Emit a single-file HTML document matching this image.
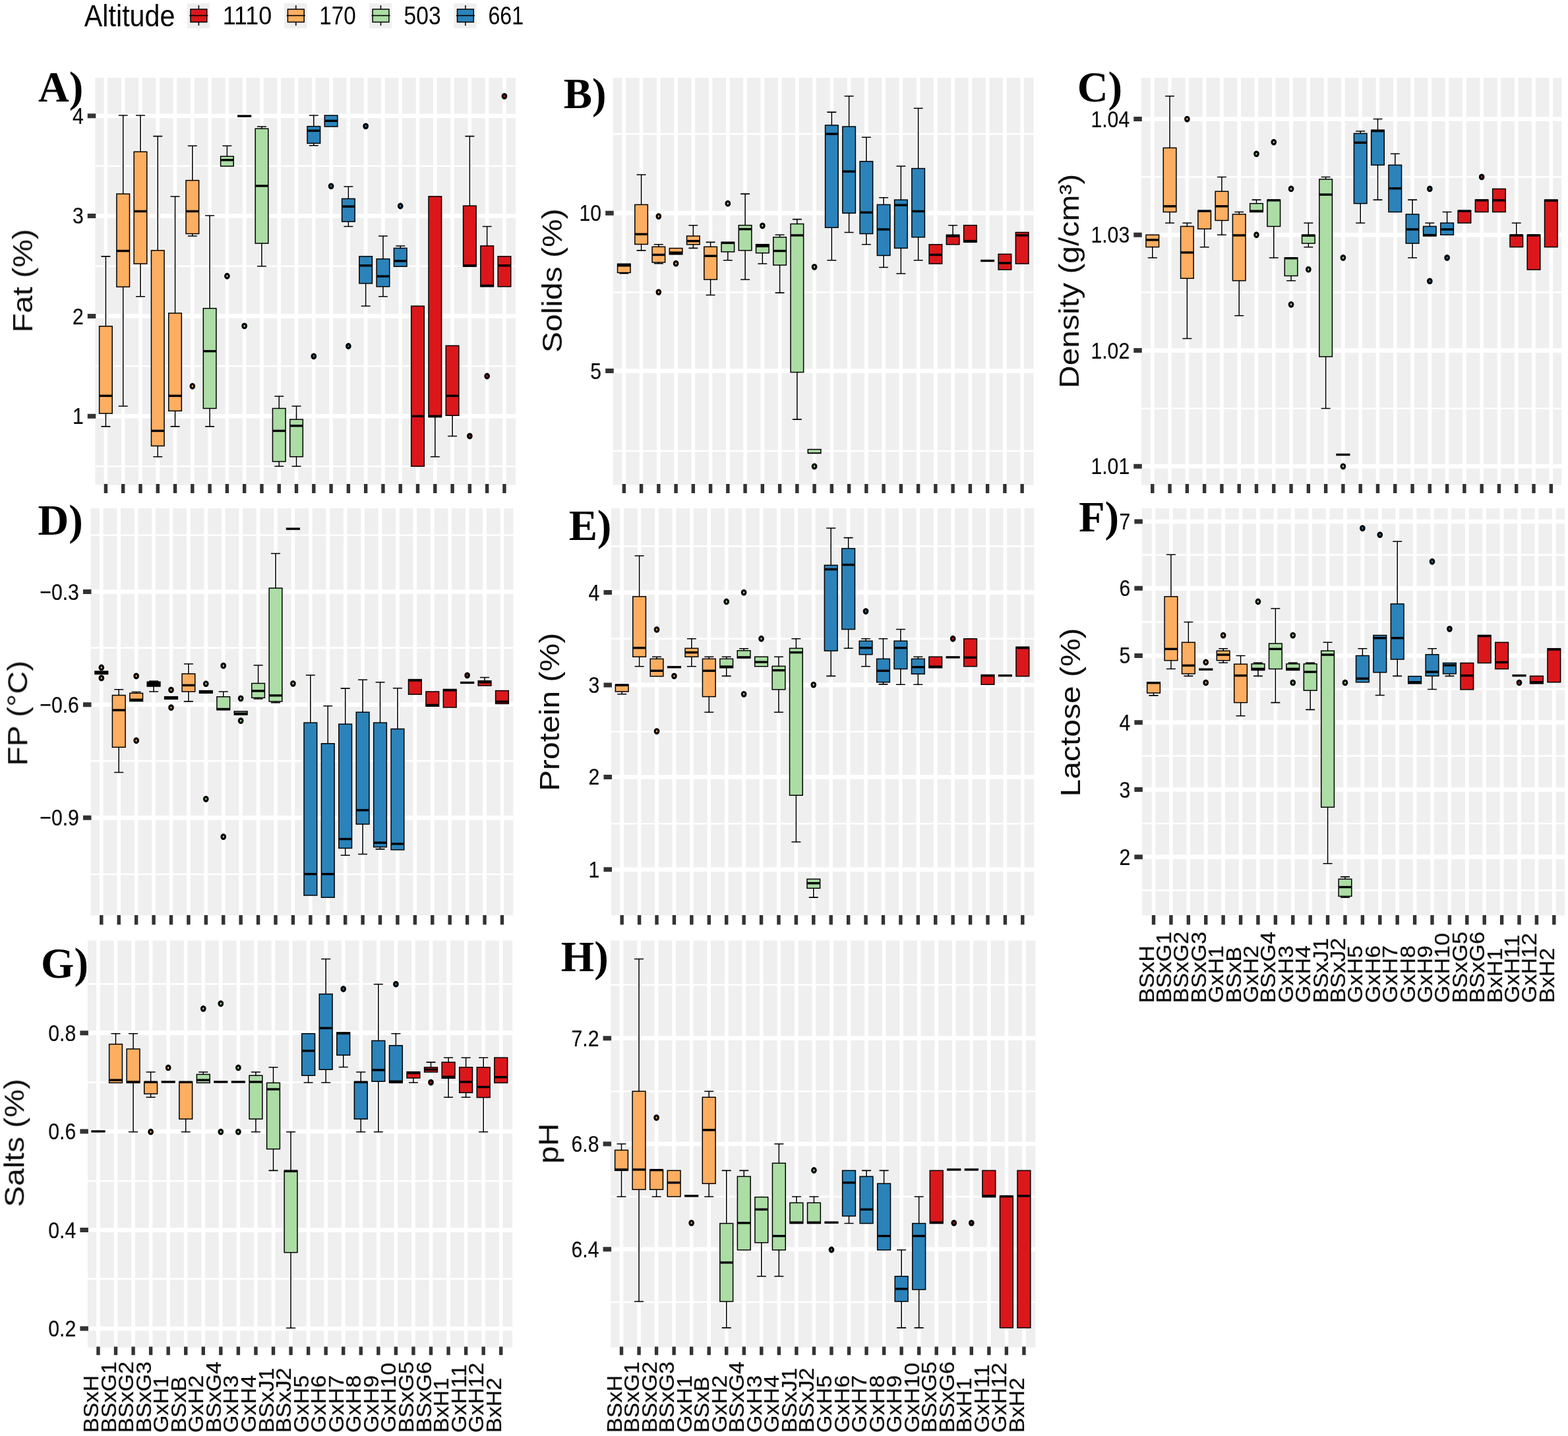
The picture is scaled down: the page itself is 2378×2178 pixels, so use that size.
<!DOCTYPE html>
<html lang="en">
<head>
<meta charset="utf-8">
<title>Milk composition by genotype and altitude</title>
<style>
html, body { margin: 0; padding: 0; background: #ffffff; }
body { width: 2378px; height: 2178px; overflow: hidden; }
svg { display: block; font-family: "Liberation Sans", sans-serif; }
</style>
</head>
<body>
<svg width="2378" height="2178" viewBox="0 0 2378 2178">
<defs><filter id="soft" x="0" y="0" width="2378" height="2178" filterUnits="userSpaceOnUse" color-interpolation-filters="sRGB"><feGaussianBlur stdDeviation="0.55"/></filter></defs>
<rect width="2378" height="2178" fill="#ffffff"/>
<g filter="url(#soft)">
<g>
<rect x="144.3" y="118" width="637.7" height="617.6" fill="#EFEFEF"/>
<path d="M144.3 251.74H782M144.3 403.82H782M144.3 555.21H782M144.3 707.29H782" stroke="#FFFFFF" stroke-width="2.6" fill="none"/>
<path d="M144.3 175.69H782M144.3 327.43H782M144.3 479.51H782M144.3 631.25H782" stroke="#FFFFFF" stroke-width="6.6" fill="none"/>
<path d="M160.42 118V735.6M186.7 118V735.6M212.98 118V735.6M239.27 118V735.6M265.55 118V735.6M291.83 118V735.6M318.12 118V735.6M344.4 118V735.6M370.68 118V735.6M396.97 118V735.6M423.25 118V735.6M449.53 118V735.6M475.82 118V735.6M502.1 118V735.6M528.38 118V735.6M554.66 118V735.6M580.95 118V735.6M607.23 118V735.6M633.51 118V735.6M659.8 118V735.6M686.08 118V735.6M712.36 118V735.6M738.65 118V735.6M764.93 118V735.6" stroke="#FFFFFF" stroke-width="5.6" fill="none"/>
<path d="M132.8 175.69H145.3M132.8 327.43H145.3M132.8 479.51H145.3M132.8 631.25H145.3" stroke="#333333" stroke-width="7.0" fill="none"/>
<path d="M160.42 734.1V748.1M186.7 734.1V748.1M212.98 734.1V748.1M239.27 734.1V748.1M265.55 734.1V748.1M291.83 734.1V748.1M318.12 734.1V748.1M344.4 734.1V748.1M370.68 734.1V748.1M396.97 734.1V748.1M423.25 734.1V748.1M449.53 734.1V748.1M475.82 734.1V748.1M502.1 734.1V748.1M528.38 734.1V748.1M554.66 734.1V748.1M580.95 734.1V748.1M607.23 734.1V748.1M633.51 734.1V748.1M659.8 734.1V748.1M686.08 734.1V748.1M712.36 734.1V748.1M738.65 734.1V748.1M764.93 734.1V748.1" stroke="#333333" stroke-width="5.4" fill="none"/>
<text transform="translate(126.7 187.69) scale(1 1.17)" text-anchor="end" font-size="30.2" fill="#0d0d0d" stroke="#0d0d0d" stroke-width="0.2">4</text>
<text transform="translate(126.7 339.43) scale(1 1.17)" text-anchor="end" font-size="30.2" fill="#0d0d0d" stroke="#0d0d0d" stroke-width="0.2">3</text>
<text transform="translate(126.7 491.51) scale(1 1.17)" text-anchor="end" font-size="30.2" fill="#0d0d0d" stroke="#0d0d0d" stroke-width="0.2">2</text>
<text transform="translate(126.7 643.25) scale(1 1.17)" text-anchor="end" font-size="30.2" fill="#0d0d0d" stroke="#0d0d0d" stroke-width="0.2">1</text>
<path d="M160.42 388.89V494.79M153.45 388.89H167.38M160.42 627.08V646.88M153.45 646.88H167.38M186.7 175V294.1M179.73 175H193.66M186.7 435.07V615.97M179.73 615.97H193.66M212.98 175V230.21M206.02 175H219.95M212.98 400V449.65M206.02 449.65H219.95M239.27 206.6V379.86M232.3 206.6H246.23M239.27 676.39V692.71M232.3 692.71H246.23M265.55 297.92V475M258.58 297.92H272.51M265.55 623.26V646.88M258.58 646.88H272.51M291.83 221.18V273.61M284.87 221.18H298.8M291.83 354.51V357.99M284.87 357.99H298.8M318.12 327.08V467.71M311.15 327.08H325.08M318.12 619.44V646.88M311.15 646.88H325.08M344.4 221.18V237.15M337.43 221.18H351.36M396.97 192.01V195.14M390 192.01H403.93M396.97 369.1V403.82M390 403.82H403.93M423.25 601.04V619.44M416.28 601.04H430.21M423.25 700V707.29M416.28 707.29H430.21M449.53 615.97V636.11M442.57 615.97H456.5M449.53 692.71V707.29M442.57 707.29H456.5M475.82 175V191.67M468.85 175H482.78M475.82 217.36V220.83M468.85 220.83H482.78M528.38 282.99V301.39M521.42 282.99H535.35M528.38 336.11V343.4M521.42 343.4H535.35M554.66 429.86V464.24M547.7 464.24H561.63M580.95 357.99V392.71M573.98 357.99H587.91M580.95 434.72V449.65M573.98 449.65H587.91M607.23 372.92V376.39M600.27 372.92H614.2M659.8 632.64V692.71M652.83 692.71H666.76M686.08 630.21V661.46M679.12 661.46H693.05M712.36 206.6V312.15M705.4 206.6H719.33M738.65 343.4V372.92M731.68 343.4H745.61" stroke="#000" stroke-width="1.55" fill="none"/>
<rect x="150.63" y="494.79" width="19.58" height="132.29" fill="#FDAE61" stroke="#000" stroke-width="1.5"/>
<path d="M150.63 600.35H170.21" stroke="#000" stroke-width="3.4" fill="none"/>
<rect x="176.91" y="294.1" width="19.58" height="140.97" fill="#FDAE61" stroke="#000" stroke-width="1.5"/>
<path d="M176.91 380.56H196.49" stroke="#000" stroke-width="3.4" fill="none"/>
<rect x="203.19" y="230.21" width="19.58" height="169.79" fill="#FDAE61" stroke="#000" stroke-width="1.5"/>
<path d="M203.19 320.49H222.77" stroke="#000" stroke-width="3.4" fill="none"/>
<rect x="229.48" y="379.86" width="19.58" height="296.53" fill="#FDAE61" stroke="#000" stroke-width="1.5"/>
<path d="M229.48 653.47H249.06" stroke="#000" stroke-width="3.4" fill="none"/>
<rect x="255.76" y="475" width="19.58" height="148.26" fill="#FDAE61" stroke="#000" stroke-width="1.5"/>
<path d="M255.76 600.35H275.34" stroke="#000" stroke-width="3.4" fill="none"/>
<rect x="282.04" y="273.61" width="19.58" height="80.9" fill="#FDAE61" stroke="#000" stroke-width="1.5"/>
<path d="M282.04 320.49H301.62" stroke="#000" stroke-width="3.4" fill="none"/>
<ellipse cx="291.83" cy="585.76" rx="2.75" ry="3.3" fill="#FDAE61" stroke="#000" stroke-width="3.2"/>
<rect x="308.33" y="467.71" width="19.58" height="151.74" fill="#ABDDA4" stroke="#000" stroke-width="1.5"/>
<path d="M308.33 532.64H327.91" stroke="#000" stroke-width="3.4" fill="none"/>
<rect x="334.61" y="237.15" width="19.58" height="14.93" fill="#ABDDA4" stroke="#000" stroke-width="1.5"/>
<path d="M334.61 242.71H354.19" stroke="#000" stroke-width="3.4" fill="none"/>
<ellipse cx="344.4" cy="418.75" rx="2.75" ry="3.3" fill="#ABDDA4" stroke="#000" stroke-width="3.2"/>
<path d="M360.14 176.04H381.22" stroke="#000" stroke-width="3.4" fill="none"/>
<ellipse cx="370.68" cy="494.44" rx="2.75" ry="3.3" fill="#ABDDA4" stroke="#000" stroke-width="3.2"/>
<rect x="387.18" y="195.14" width="19.58" height="173.96" fill="#ABDDA4" stroke="#000" stroke-width="1.5"/>
<path d="M387.18 281.94H406.76" stroke="#000" stroke-width="3.4" fill="none"/>
<rect x="413.46" y="619.44" width="19.58" height="80.56" fill="#ABDDA4" stroke="#000" stroke-width="1.5"/>
<path d="M413.46 653.47H433.04" stroke="#000" stroke-width="3.4" fill="none"/>
<rect x="439.74" y="636.11" width="19.58" height="56.6" fill="#ABDDA4" stroke="#000" stroke-width="1.5"/>
<path d="M439.74 645.83H459.32" stroke="#000" stroke-width="3.4" fill="none"/>
<rect x="466.02" y="191.67" width="19.58" height="25.69" fill="#2B83BA" stroke="#000" stroke-width="1.5"/>
<path d="M466.02 198.26H485.61" stroke="#000" stroke-width="3.4" fill="none"/>
<ellipse cx="475.82" cy="540.28" rx="2.75" ry="3.3" fill="#2B83BA" stroke="#000" stroke-width="3.2"/>
<rect x="492.31" y="175" width="19.58" height="17.01" fill="#2B83BA" stroke="#000" stroke-width="1.5"/>
<path d="M492.31 183.33H511.89" stroke="#000" stroke-width="3.4" fill="none"/>
<ellipse cx="502.1" cy="282.29" rx="2.75" ry="3.3" fill="#2B83BA" stroke="#000" stroke-width="3.2"/>
<rect x="518.59" y="301.39" width="19.58" height="34.72" fill="#2B83BA" stroke="#000" stroke-width="1.5"/>
<path d="M518.59 313.19H538.17" stroke="#000" stroke-width="3.4" fill="none"/>
<ellipse cx="528.38" cy="525" rx="2.75" ry="3.3" fill="#2B83BA" stroke="#000" stroke-width="3.2"/>
<rect x="544.87" y="388.89" width="19.58" height="40.97" fill="#2B83BA" stroke="#000" stroke-width="1.5"/>
<path d="M544.87 402.78H564.46" stroke="#000" stroke-width="3.4" fill="none"/>
<ellipse cx="554.66" cy="191.32" rx="2.75" ry="3.3" fill="#2B83BA" stroke="#000" stroke-width="3.2"/>
<rect x="571.16" y="392.71" width="19.58" height="42.01" fill="#2B83BA" stroke="#000" stroke-width="1.5"/>
<path d="M571.16 419.1H590.74" stroke="#000" stroke-width="3.4" fill="none"/>
<rect x="597.44" y="376.39" width="19.58" height="27.78" fill="#2B83BA" stroke="#000" stroke-width="1.5"/>
<path d="M597.44 395.83H617.02" stroke="#000" stroke-width="3.4" fill="none"/>
<ellipse cx="607.23" cy="312.5" rx="2.75" ry="3.3" fill="#2B83BA" stroke="#000" stroke-width="3.2"/>
<rect x="623.72" y="464.24" width="19.58" height="243.06" fill="#DB171B" stroke="#000" stroke-width="1.5"/>
<path d="M623.72 631.25H643.3" stroke="#000" stroke-width="3.4" fill="none"/>
<rect x="650.01" y="297.92" width="19.58" height="334.72" fill="#DB171B" stroke="#000" stroke-width="1.5"/>
<path d="M650.01 631.25H669.59" stroke="#000" stroke-width="3.4" fill="none"/>
<rect x="676.29" y="524.31" width="19.58" height="105.9" fill="#DB171B" stroke="#000" stroke-width="1.5"/>
<path d="M676.29 600.35H695.87" stroke="#000" stroke-width="3.4" fill="none"/>
<rect x="702.57" y="312.15" width="19.58" height="92.01" fill="#DB171B" stroke="#000" stroke-width="1.5"/>
<path d="M702.57 402.78H722.15" stroke="#000" stroke-width="3.4" fill="none"/>
<ellipse cx="712.36" cy="661.46" rx="2.75" ry="3.3" fill="#DB171B" stroke="#000" stroke-width="3.2"/>
<rect x="728.86" y="372.92" width="19.58" height="61.81" fill="#DB171B" stroke="#000" stroke-width="1.5"/>
<path d="M728.86 433.33H748.44" stroke="#000" stroke-width="3.4" fill="none"/>
<ellipse cx="738.65" cy="570.49" rx="2.75" ry="3.3" fill="#DB171B" stroke="#000" stroke-width="3.2"/>
<rect x="755.14" y="388.89" width="19.58" height="45.83" fill="#DB171B" stroke="#000" stroke-width="1.5"/>
<path d="M755.14 402.78H774.72" stroke="#000" stroke-width="3.4" fill="none"/>
<ellipse cx="764.93" cy="145.83" rx="2.75" ry="3.3" fill="#DB171B" stroke="#000" stroke-width="3.2"/>
</g>
<g>
<rect x="929.7" y="118" width="637.8" height="617.6" fill="#EFEFEF"/>
<path d="M929.7 203.12H1567.5M929.7 443.4H1567.5M929.7 684.03H1567.5" stroke="#FFFFFF" stroke-width="2.6" fill="none"/>
<path d="M929.7 323.26H1567.5M929.7 562.5H1567.5" stroke="#FFFFFF" stroke-width="6.6" fill="none"/>
<path d="M946.32 118V735.6M972.57 118V735.6M998.83 118V735.6M1025.08 118V735.6M1051.33 118V735.6M1077.58 118V735.6M1103.84 118V735.6M1130.09 118V735.6M1156.34 118V735.6M1182.6 118V735.6M1208.85 118V735.6M1235.1 118V735.6M1261.36 118V735.6M1287.61 118V735.6M1313.86 118V735.6M1340.11 118V735.6M1366.37 118V735.6M1392.62 118V735.6M1418.87 118V735.6M1445.13 118V735.6M1471.38 118V735.6M1497.63 118V735.6M1523.89 118V735.6M1550.14 118V735.6" stroke="#FFFFFF" stroke-width="5.6" fill="none"/>
<path d="M918.2 323.26H930.7M918.2 562.5H930.7" stroke="#333333" stroke-width="7.0" fill="none"/>
<path d="M946.32 734.1V748.1M972.57 734.1V748.1M998.83 734.1V748.1M1025.08 734.1V748.1M1051.33 734.1V748.1M1077.58 734.1V748.1M1103.84 734.1V748.1M1130.09 734.1V748.1M1156.34 734.1V748.1M1182.6 734.1V748.1M1208.85 734.1V748.1M1235.1 734.1V748.1M1261.36 734.1V748.1M1287.61 734.1V748.1M1313.86 734.1V748.1M1340.11 734.1V748.1M1366.37 734.1V748.1M1392.62 734.1V748.1M1418.87 734.1V748.1M1445.13 734.1V748.1M1471.38 734.1V748.1M1497.63 734.1V748.1M1523.89 734.1V748.1M1550.14 734.1V748.1" stroke="#333333" stroke-width="5.4" fill="none"/>
<text transform="translate(912.1 335.26) scale(1 1.17)" text-anchor="end" font-size="30.2" fill="#0d0d0d" stroke="#0d0d0d" stroke-width="0.2">10</text>
<text transform="translate(912.1 574.5) scale(1 1.17)" text-anchor="end" font-size="30.2" fill="#0d0d0d" stroke="#0d0d0d" stroke-width="0.2">5</text>
<path d="M946.32 413.54V414.79M939.36 414.79H953.28M972.57 264.93V310.42M965.62 264.93H979.53M972.57 370.49V379.86M965.62 379.86H979.53M998.83 370.83V374.31M991.87 370.83H1005.78M998.83 397.92V399.65M991.87 399.65H1005.78M1051.33 341.67V357.99M1044.37 341.67H1058.29M1051.33 370.83V376.39M1044.37 376.39H1058.29M1077.58 367.36V374.31M1070.63 367.36H1084.54M1077.58 423.96V447.57M1070.63 447.57H1084.54M1103.84 381.94V394.79M1096.88 394.79H1110.79M1130.09 294.1V341.67M1123.13 294.1H1137.05M1130.09 379.86V423.96M1123.13 423.96H1137.05M1156.34 383.68V400M1149.39 400H1163.3M1182.6 356.25V359.72M1175.64 356.25H1189.55M1182.6 402.08V444.1M1175.64 444.1H1189.55M1208.85 332.64V339.58M1201.89 332.64H1215.81M1208.85 564.58V636.11M1201.89 636.11H1215.81M1261.36 170.14V189.93M1254.4 170.14H1268.31M1261.36 345.14V394.79M1254.4 394.79H1268.31M1287.61 145.83V192.01M1280.65 145.83H1294.57M1287.61 323.26V352.43M1280.65 352.43H1294.57M1313.86 208.33V244.79M1306.9 208.33H1320.82M1313.86 354.51V370.83M1306.9 370.83H1320.82M1340.11 299.65V310.42M1333.16 299.65H1347.07M1340.11 387.5V405.56M1333.16 405.56H1347.07M1366.37 252.08V303.12M1359.41 252.08H1373.32M1366.37 376.39V414.93M1359.41 414.93H1373.32M1392.62 164.24V255.56M1385.66 164.24H1399.58M1392.62 359.72V394.79M1385.66 394.79H1399.58M1445.13 341.67V356.25M1438.17 341.67H1452.08" stroke="#000" stroke-width="1.55" fill="none"/>
<rect x="936.54" y="400.24" width="19.56" height="13.3" fill="#FDAE61" stroke="#000" stroke-width="1.5"/>
<path d="M936.54 402.26H956.1" stroke="#000" stroke-width="4.4" fill="none"/>
<rect x="962.79" y="310.42" width="19.56" height="60.07" fill="#FDAE61" stroke="#000" stroke-width="1.5"/>
<path d="M962.79 355.21H982.35" stroke="#000" stroke-width="3.4" fill="none"/>
<rect x="989.05" y="374.31" width="19.56" height="23.61" fill="#FDAE61" stroke="#000" stroke-width="1.5"/>
<path d="M989.05 386.46H1008.6" stroke="#000" stroke-width="3.4" fill="none"/>
<ellipse cx="998.83" cy="328.12" rx="2.75" ry="3.3" fill="#FDAE61" stroke="#000" stroke-width="3.2"/>
<ellipse cx="998.83" cy="443.06" rx="2.75" ry="3.3" fill="#FDAE61" stroke="#000" stroke-width="3.2"/>
<rect x="1015.3" y="376.53" width="19.56" height="9.24" fill="#FDAE61" stroke="#000" stroke-width="1.5"/>
<path d="M1015.3 383.75H1034.86" stroke="#000" stroke-width="4.6" fill="none"/>
<ellipse cx="1025.08" cy="399.65" rx="2.75" ry="3.3" fill="#FDAE61" stroke="#000" stroke-width="3.2"/>
<rect x="1041.55" y="357.99" width="19.56" height="12.85" fill="#FDAE61" stroke="#000" stroke-width="1.5"/>
<path d="M1041.55 365.62H1061.11" stroke="#000" stroke-width="3.4" fill="none"/>
<rect x="1067.81" y="374.31" width="19.56" height="49.65" fill="#FDAE61" stroke="#000" stroke-width="1.5"/>
<path d="M1067.81 388.19H1087.36" stroke="#000" stroke-width="3.4" fill="none"/>
<rect x="1094.06" y="367.36" width="19.56" height="14.58" fill="#ABDDA4" stroke="#000" stroke-width="1.5"/>
<path d="M1094.06 368.4H1113.62" stroke="#000" stroke-width="3.4" fill="none"/>
<ellipse cx="1103.84" cy="308.68" rx="2.75" ry="3.3" fill="#ABDDA4" stroke="#000" stroke-width="3.2"/>
<rect x="1120.31" y="341.67" width="19.56" height="38.19" fill="#ABDDA4" stroke="#000" stroke-width="1.5"/>
<path d="M1120.31 347.57H1139.87" stroke="#000" stroke-width="3.4" fill="none"/>
<rect x="1146.56" y="370.69" width="19.56" height="12.99" fill="#ABDDA4" stroke="#000" stroke-width="1.5"/>
<path d="M1146.56 372.92H1166.12" stroke="#000" stroke-width="4.4" fill="none"/>
<ellipse cx="1156.34" cy="342.36" rx="2.75" ry="3.3" fill="#ABDDA4" stroke="#000" stroke-width="3.2"/>
<rect x="1172.82" y="359.72" width="19.56" height="42.36" fill="#ABDDA4" stroke="#000" stroke-width="1.5"/>
<path d="M1172.82 380.56H1192.38" stroke="#000" stroke-width="3.4" fill="none"/>
<rect x="1199.07" y="339.58" width="19.56" height="225" fill="#ABDDA4" stroke="#000" stroke-width="1.5"/>
<path d="M1199.07 356.94H1218.63" stroke="#000" stroke-width="3.4" fill="none"/>
<rect x="1225.32" y="681.6" width="19.56" height="5.9" fill="#ABDDA4" stroke="#000" stroke-width="1.5"/>
<path d="M1225.32 687.15H1244.88" stroke="#000" stroke-width="1.6" fill="none"/>
<ellipse cx="1235.1" cy="404.86" rx="2.75" ry="3.3" fill="#ABDDA4" stroke="#000" stroke-width="3.2"/>
<ellipse cx="1235.1" cy="707.29" rx="2.75" ry="3.3" fill="#ABDDA4" stroke="#000" stroke-width="3.2"/>
<rect x="1251.58" y="189.93" width="19.56" height="155.21" fill="#2B83BA" stroke="#000" stroke-width="1.5"/>
<path d="M1251.58 203.12H1271.13" stroke="#000" stroke-width="3.4" fill="none"/>
<rect x="1277.83" y="192.01" width="19.56" height="131.25" fill="#2B83BA" stroke="#000" stroke-width="1.5"/>
<path d="M1277.83 260.07H1297.39" stroke="#000" stroke-width="3.4" fill="none"/>
<rect x="1304.08" y="244.79" width="19.56" height="109.72" fill="#2B83BA" stroke="#000" stroke-width="1.5"/>
<path d="M1304.08 322.22H1323.64" stroke="#000" stroke-width="3.4" fill="none"/>
<rect x="1330.34" y="310.42" width="19.56" height="77.08" fill="#2B83BA" stroke="#000" stroke-width="1.5"/>
<path d="M1330.34 347.92H1349.89" stroke="#000" stroke-width="3.4" fill="none"/>
<rect x="1356.59" y="303.12" width="19.56" height="73.26" fill="#2B83BA" stroke="#000" stroke-width="1.5"/>
<path d="M1356.59 311.11H1376.15" stroke="#000" stroke-width="3.4" fill="none"/>
<rect x="1382.84" y="255.56" width="19.56" height="104.17" fill="#2B83BA" stroke="#000" stroke-width="1.5"/>
<path d="M1382.84 320.49H1402.4" stroke="#000" stroke-width="3.4" fill="none"/>
<rect x="1409.09" y="370.83" width="19.56" height="29.17" fill="#DB171B" stroke="#000" stroke-width="1.5"/>
<path d="M1409.09 386.46H1428.65" stroke="#000" stroke-width="3.4" fill="none"/>
<rect x="1435.35" y="356.25" width="19.56" height="14.58" fill="#DB171B" stroke="#000" stroke-width="1.5"/>
<path d="M1435.35 357.99H1454.91" stroke="#000" stroke-width="3.4" fill="none"/>
<rect x="1461.6" y="341.67" width="19.56" height="25.69" fill="#DB171B" stroke="#000" stroke-width="1.5"/>
<path d="M1461.6 365.62H1481.16" stroke="#000" stroke-width="3.4" fill="none"/>
<path d="M1487.1 395.49H1508.16" stroke="#000" stroke-width="3.4" fill="none"/>
<rect x="1514.11" y="385.42" width="19.56" height="23.61" fill="#DB171B" stroke="#000" stroke-width="1.5"/>
<path d="M1514.11 398.96H1533.67" stroke="#000" stroke-width="3.4" fill="none"/>
<rect x="1540.36" y="352.43" width="19.56" height="47.57" fill="#DB171B" stroke="#000" stroke-width="1.5"/>
<path d="M1540.36 356.94H1559.92" stroke="#000" stroke-width="3.4" fill="none"/>
</g>
<g>
<rect x="1730.8" y="118" width="637.4" height="617.6" fill="#EFEFEF"/>
<path d="M1730.8 268.4H2368.2M1730.8 443.4H2368.2M1730.8 619.44H2368.2" stroke="#FFFFFF" stroke-width="2.6" fill="none"/>
<path d="M1730.8 180.56H2368.2M1730.8 356.25H2368.2M1730.8 531.6H2368.2M1730.8 707.29H2368.2" stroke="#FFFFFF" stroke-width="6.6" fill="none"/>
<path d="M1747.79 118V735.6M1774.07 118V735.6M1800.36 118V735.6M1826.64 118V735.6M1852.92 118V735.6M1879.21 118V735.6M1905.49 118V735.6M1931.77 118V735.6M1958.06 118V735.6M1984.34 118V735.6M2010.62 118V735.6M2036.91 118V735.6M2063.19 118V735.6M2089.47 118V735.6M2115.76 118V735.6M2142.04 118V735.6M2168.32 118V735.6M2194.61 118V735.6M2220.89 118V735.6M2247.17 118V735.6M2273.46 118V735.6M2299.74 118V735.6M2326.02 118V735.6M2352.31 118V735.6" stroke="#FFFFFF" stroke-width="5.6" fill="none"/>
<path d="M1719.3 180.56H1731.8M1719.3 356.25H1731.8M1719.3 531.6H1731.8M1719.3 707.29H1731.8" stroke="#333333" stroke-width="7.0" fill="none"/>
<path d="M1747.79 734.1V748.1M1774.07 734.1V748.1M1800.36 734.1V748.1M1826.64 734.1V748.1M1852.92 734.1V748.1M1879.21 734.1V748.1M1905.49 734.1V748.1M1931.77 734.1V748.1M1958.06 734.1V748.1M1984.34 734.1V748.1M2010.62 734.1V748.1M2036.91 734.1V748.1M2063.19 734.1V748.1M2089.47 734.1V748.1M2115.76 734.1V748.1M2142.04 734.1V748.1M2168.32 734.1V748.1M2194.61 734.1V748.1M2220.89 734.1V748.1M2247.17 734.1V748.1M2273.46 734.1V748.1M2299.74 734.1V748.1M2326.02 734.1V748.1M2352.31 734.1V748.1" stroke="#333333" stroke-width="5.4" fill="none"/>
<text transform="translate(1713.2 192.56) scale(1 1.17)" text-anchor="end" font-size="30.2" fill="#0d0d0d" stroke="#0d0d0d" stroke-width="0.2">1.04</text>
<text transform="translate(1713.2 368.25) scale(1 1.17)" text-anchor="end" font-size="30.2" fill="#0d0d0d" stroke="#0d0d0d" stroke-width="0.2">1.03</text>
<text transform="translate(1713.2 543.6) scale(1 1.17)" text-anchor="end" font-size="30.2" fill="#0d0d0d" stroke="#0d0d0d" stroke-width="0.2">1.02</text>
<text transform="translate(1713.2 719.29) scale(1 1.17)" text-anchor="end" font-size="30.2" fill="#0d0d0d" stroke="#0d0d0d" stroke-width="0.2">1.01</text>
<path d="M1747.79 374.65V390.97M1740.83 390.97H1754.76M1774.07 145.83V224.31M1767.11 145.83H1781.04M1774.07 321.53V338.19M1767.11 338.19H1781.04M1800.36 338.19V343.4M1793.39 338.19H1807.32M1800.36 422.22V513.54M1793.39 513.54H1807.32M1826.64 347.22V374.65M1819.68 374.65H1833.61M1852.92 268.4V290.28M1845.96 268.4H1859.89M1852.92 334.38V356.25M1845.96 356.25H1859.89M1879.21 321.53V325M1872.24 321.53H1886.17M1879.21 425.69V478.82M1872.24 478.82H1886.17M1905.49 303.12V308.68M1898.53 303.12H1912.46M1931.77 343.4V390.97M1924.81 390.97H1938.74M1958.06 418.4V425.69M1951.09 425.69H1965.02M1984.34 338.19V356.25M1977.38 338.19H1991.31M1984.34 369.1V374.65M1977.38 374.65H1991.31M2010.62 268.4V271.88M2003.66 268.4H2017.59M2010.62 540.97V619.44M2003.66 619.44H2017.59M2063.19 198.96V202.43M2056.23 198.96H2070.16M2063.19 308.68V338.19M2056.23 338.19H2070.16M2089.47 180.56V197.22M2082.51 180.56H2096.44M2089.47 250.35V303.12M2082.51 303.12H2096.44M2115.76 233.33V250.35M2108.79 233.33H2122.72M2142.04 303.12V325M2135.07 303.12H2149M2142.04 369.1V390.97M2135.07 390.97H2149M2168.32 338.19V343.4M2161.36 338.19H2175.29M2194.61 321.53V338.19M2187.64 321.53H2201.57M2299.74 338.19V356.25M2292.77 338.19H2306.7" stroke="#000" stroke-width="1.55" fill="none"/>
<rect x="1738" y="356.25" width="19.58" height="18.4" fill="#FDAE61" stroke="#000" stroke-width="1.5"/>
<path d="M1738 363.89H1757.58" stroke="#000" stroke-width="3.4" fill="none"/>
<rect x="1764.28" y="224.31" width="19.58" height="97.22" fill="#FDAE61" stroke="#000" stroke-width="1.5"/>
<path d="M1764.28 312.85H1783.87" stroke="#000" stroke-width="3.4" fill="none"/>
<rect x="1790.57" y="343.4" width="19.58" height="78.82" fill="#FDAE61" stroke="#000" stroke-width="1.5"/>
<path d="M1790.57 382.99H1810.15" stroke="#000" stroke-width="3.4" fill="none"/>
<ellipse cx="1800.36" cy="180.56" rx="2.75" ry="3.3" fill="#FDAE61" stroke="#000" stroke-width="3.2"/>
<rect x="1816.85" y="319.44" width="19.58" height="27.78" fill="#FDAE61" stroke="#000" stroke-width="1.5"/>
<path d="M1816.85 320.14H1836.43" stroke="#000" stroke-width="3.4" fill="none"/>
<rect x="1843.13" y="290.28" width="19.58" height="44.1" fill="#FDAE61" stroke="#000" stroke-width="1.5"/>
<path d="M1843.13 312.85H1862.72" stroke="#000" stroke-width="3.4" fill="none"/>
<rect x="1869.42" y="325" width="19.58" height="100.69" fill="#FDAE61" stroke="#000" stroke-width="1.5"/>
<path d="M1869.42 356.94H1889" stroke="#000" stroke-width="3.4" fill="none"/>
<rect x="1895.7" y="308.68" width="19.58" height="12.85" fill="#ABDDA4" stroke="#000" stroke-width="1.5"/>
<path d="M1895.7 320.14H1915.28" stroke="#000" stroke-width="3.4" fill="none"/>
<ellipse cx="1905.49" cy="233.33" rx="2.75" ry="3.3" fill="#ABDDA4" stroke="#000" stroke-width="3.2"/>
<ellipse cx="1905.49" cy="356.25" rx="2.75" ry="3.3" fill="#ABDDA4" stroke="#000" stroke-width="3.2"/>
<rect x="1921.98" y="303.12" width="19.58" height="40.28" fill="#ABDDA4" stroke="#000" stroke-width="1.5"/>
<path d="M1921.98 303.82H1941.56" stroke="#000" stroke-width="3.4" fill="none"/>
<ellipse cx="1931.77" cy="215.62" rx="2.75" ry="3.3" fill="#ABDDA4" stroke="#000" stroke-width="3.2"/>
<rect x="1948.27" y="390.97" width="19.58" height="27.43" fill="#ABDDA4" stroke="#000" stroke-width="1.5"/>
<path d="M1948.27 391.67H1967.85" stroke="#000" stroke-width="3.4" fill="none"/>
<ellipse cx="1958.06" cy="286.46" rx="2.75" ry="3.3" fill="#ABDDA4" stroke="#000" stroke-width="3.2"/>
<ellipse cx="1958.06" cy="461.81" rx="2.75" ry="3.3" fill="#ABDDA4" stroke="#000" stroke-width="3.2"/>
<rect x="1974.55" y="356.25" width="19.58" height="12.85" fill="#ABDDA4" stroke="#000" stroke-width="1.5"/>
<path d="M1974.55 357.29H1994.13" stroke="#000" stroke-width="3.4" fill="none"/>
<ellipse cx="1984.34" cy="408.68" rx="2.75" ry="3.3" fill="#ABDDA4" stroke="#000" stroke-width="3.2"/>
<rect x="2000.83" y="271.88" width="19.58" height="269.1" fill="#ABDDA4" stroke="#000" stroke-width="1.5"/>
<path d="M2000.83 295.14H2020.41" stroke="#000" stroke-width="3.4" fill="none"/>
<path d="M2026.37 689.58H2047.45" stroke="#000" stroke-width="3.4" fill="none"/>
<ellipse cx="2036.91" cy="390.97" rx="2.75" ry="3.3" fill="#ABDDA4" stroke="#000" stroke-width="3.2"/>
<ellipse cx="2036.91" cy="707.29" rx="2.75" ry="3.3" fill="#ABDDA4" stroke="#000" stroke-width="3.2"/>
<rect x="2053.4" y="202.43" width="19.58" height="106.25" fill="#2B83BA" stroke="#000" stroke-width="1.5"/>
<path d="M2053.4 216.32H2072.98" stroke="#000" stroke-width="3.4" fill="none"/>
<rect x="2079.68" y="197.22" width="19.58" height="53.12" fill="#2B83BA" stroke="#000" stroke-width="1.5"/>
<path d="M2079.68 198.61H2099.26" stroke="#000" stroke-width="3.4" fill="none"/>
<rect x="2105.97" y="250.35" width="19.58" height="71.18" fill="#2B83BA" stroke="#000" stroke-width="1.5"/>
<path d="M2105.97 285.76H2125.55" stroke="#000" stroke-width="3.4" fill="none"/>
<rect x="2132.25" y="325" width="19.58" height="44.1" fill="#2B83BA" stroke="#000" stroke-width="1.5"/>
<path d="M2132.25 347.92H2151.83" stroke="#000" stroke-width="3.4" fill="none"/>
<rect x="2158.53" y="343.4" width="19.58" height="14.58" fill="#2B83BA" stroke="#000" stroke-width="1.5"/>
<path d="M2158.53 356.6H2178.11" stroke="#000" stroke-width="3.4" fill="none"/>
<ellipse cx="2168.32" cy="286.46" rx="2.75" ry="3.3" fill="#2B83BA" stroke="#000" stroke-width="3.2"/>
<ellipse cx="2168.32" cy="426.39" rx="2.75" ry="3.3" fill="#2B83BA" stroke="#000" stroke-width="3.2"/>
<rect x="2184.82" y="338.19" width="19.58" height="18.06" fill="#2B83BA" stroke="#000" stroke-width="1.5"/>
<path d="M2184.82 347.92H2204.4" stroke="#000" stroke-width="3.4" fill="none"/>
<ellipse cx="2194.61" cy="390.97" rx="2.75" ry="3.3" fill="#2B83BA" stroke="#000" stroke-width="3.2"/>
<rect x="2211.1" y="319.44" width="19.58" height="18.75" fill="#DB171B" stroke="#000" stroke-width="1.5"/>
<path d="M2211.1 320.14H2230.68" stroke="#000" stroke-width="3.4" fill="none"/>
<rect x="2237.38" y="303.12" width="19.58" height="18.4" fill="#DB171B" stroke="#000" stroke-width="1.5"/>
<path d="M2237.38 303.82H2256.96" stroke="#000" stroke-width="3.4" fill="none"/>
<ellipse cx="2247.17" cy="268.4" rx="2.75" ry="3.3" fill="#DB171B" stroke="#000" stroke-width="3.2"/>
<rect x="2263.67" y="286.46" width="19.58" height="35.07" fill="#DB171B" stroke="#000" stroke-width="1.5"/>
<path d="M2263.67 303.82H2283.25" stroke="#000" stroke-width="3.4" fill="none"/>
<rect x="2289.95" y="356.25" width="19.58" height="18.4" fill="#DB171B" stroke="#000" stroke-width="1.5"/>
<path d="M2289.95 356.94H2309.53" stroke="#000" stroke-width="3.4" fill="none"/>
<rect x="2316.23" y="356.25" width="19.58" height="52.78" fill="#DB171B" stroke="#000" stroke-width="1.5"/>
<path d="M2316.23 356.94H2335.81" stroke="#000" stroke-width="3.4" fill="none"/>
<rect x="2342.52" y="303.12" width="19.58" height="71.53" fill="#DB171B" stroke="#000" stroke-width="1.5"/>
<path d="M2342.52 304.17H2362.1" stroke="#000" stroke-width="3.4" fill="none"/>
</g>
<g>
<rect x="137.5" y="771" width="640.8" height="617.3" fill="#EFEFEF"/>
<path d="M137.5 811.81H778.3M137.5 982.64H778.3M137.5 1154.17H778.3M137.5 1326.04H778.3" stroke="#FFFFFF" stroke-width="2.6" fill="none"/>
<path d="M137.5 897.57H778.3M137.5 1068.75H778.3M137.5 1240.28H778.3" stroke="#FFFFFF" stroke-width="6.6" fill="none"/>
<path d="M153.82 771V1388.3M180.24 771V1388.3M206.66 771V1388.3M233.08 771V1388.3M259.5 771V1388.3M285.91 771V1388.3M312.33 771V1388.3M338.75 771V1388.3M365.17 771V1388.3M391.59 771V1388.3M418.01 771V1388.3M444.43 771V1388.3M470.85 771V1388.3M497.27 771V1388.3M523.69 771V1388.3M550.11 771V1388.3M576.52 771V1388.3M602.94 771V1388.3M629.36 771V1388.3M655.78 771V1388.3M682.2 771V1388.3M708.62 771V1388.3M735.04 771V1388.3M761.46 771V1388.3" stroke="#FFFFFF" stroke-width="5.6" fill="none"/>
<path d="M126 897.57H138.5M126 1068.75H138.5M126 1240.28H138.5" stroke="#333333" stroke-width="7.0" fill="none"/>
<path d="M153.82 1388V1402.4M180.24 1388V1402.4M206.66 1388V1402.4M233.08 1388V1402.4M259.5 1388V1402.4M285.91 1388V1402.4M312.33 1388V1402.4M338.75 1388V1402.4M365.17 1388V1402.4M391.59 1388V1402.4M418.01 1388V1402.4M444.43 1388V1402.4M470.85 1388V1402.4M497.27 1388V1402.4M523.69 1388V1402.4M550.11 1388V1402.4M576.52 1388V1402.4M602.94 1388V1402.4M629.36 1388V1402.4M655.78 1388V1402.4M682.2 1388V1402.4M708.62 1388V1402.4M735.04 1388V1402.4M761.46 1388V1402.4" stroke="#333333" stroke-width="5.4" fill="none"/>
<text transform="translate(119.9 909.57) scale(1 1.17)" text-anchor="end" font-size="30.2" fill="#0d0d0d" stroke="#0d0d0d" stroke-width="0.2">−0.3</text>
<text transform="translate(119.9 1080.75) scale(1 1.17)" text-anchor="end" font-size="30.2" fill="#0d0d0d" stroke="#0d0d0d" stroke-width="0.2">−0.6</text>
<text transform="translate(119.9 1252.28) scale(1 1.17)" text-anchor="end" font-size="30.2" fill="#0d0d0d" stroke="#0d0d0d" stroke-width="0.2">−0.9</text>
<path d="M180.24 1045.83V1054.51M173.24 1045.83H187.24M180.24 1133.33V1171.53M173.24 1171.53H187.24M206.66 1049.41V1051.39M199.66 1049.41H213.66M233.08 1032.92V1034.2M226.08 1032.92H240.08M233.08 1041.01V1048.99M226.08 1048.99H240.08M285.91 1007.08V1021.94M278.91 1007.08H292.92M285.91 1049.03V1063.85M278.91 1063.85H292.92M338.75 1049.03V1056.77M331.75 1049.03H345.75M391.59 1009.03V1036.46M384.59 1009.03H398.59M391.59 1058.33V1060.07M384.59 1060.07H398.59M418.01 839.58V892.01M411.01 839.58H425.01M418.01 1063.89V1065.62M411.01 1065.62H425.01M470.85 1023.96V1096.18M463.85 1023.96H477.85M497.27 1070.83V1127.78M490.27 1070.83H504.27M523.69 1044.1V1098.26M516.69 1044.1H530.69M523.69 1286.46V1297.22M516.69 1297.22H530.69M550.11 1030.9V1080.21M543.1 1030.9H557.11M550.11 1250V1295.49M543.1 1295.49H557.11M576.52 1034.72V1096.18M569.52 1034.72H583.53M576.52 1284.72V1287.85M569.52 1287.85H583.53M602.94 1043.75V1105.56M595.94 1043.75H609.94M735.04 1027.43V1032.64M728.04 1027.43H742.04" stroke="#000" stroke-width="1.55" fill="none"/>
<path d="M143.23 1020.28H164.41" stroke="#000" stroke-width="5.8" fill="none"/>
<ellipse cx="153.82" cy="1012.5" rx="2.75" ry="3.3" fill="#FDAE61" stroke="#000" stroke-width="3.2"/>
<ellipse cx="153.82" cy="1028.4" rx="2.75" ry="3.3" fill="#FDAE61" stroke="#000" stroke-width="3.2"/>
<rect x="170.4" y="1054.51" width="19.68" height="78.82" fill="#FDAE61" stroke="#000" stroke-width="1.5"/>
<path d="M170.4 1077.08H190.08" stroke="#000" stroke-width="3.4" fill="none"/>
<rect x="196.82" y="1051.39" width="19.68" height="12.12" fill="#FDAE61" stroke="#000" stroke-width="1.5"/>
<path d="M196.82 1061.7H216.5" stroke="#000" stroke-width="4.2" fill="none"/>
<ellipse cx="206.66" cy="1025.42" rx="2.75" ry="3.3" fill="#FDAE61" stroke="#000" stroke-width="3.2"/>
<ellipse cx="206.66" cy="1123.23" rx="2.75" ry="3.3" fill="#FDAE61" stroke="#000" stroke-width="3.2"/>
<rect x="223.24" y="1034.2" width="19.68" height="6.81" fill="#000" stroke="#000" stroke-width="1.5"/>
<path d="M223.24 1037.5H242.92" stroke="#000" stroke-width="3.4" fill="none"/>
<path d="M248.9 1058.51H270.09" stroke="#000" stroke-width="5.2" fill="none"/>
<ellipse cx="259.5" cy="1046.46" rx="2.75" ry="3.3" fill="#FDAE61" stroke="#000" stroke-width="3.2"/>
<ellipse cx="259.5" cy="1073.16" rx="2.75" ry="3.3" fill="#FDAE61" stroke="#000" stroke-width="3.2"/>
<rect x="276.07" y="1021.94" width="19.68" height="27.08" fill="#FDAE61" stroke="#000" stroke-width="1.5"/>
<path d="M276.07 1039.38H295.76" stroke="#000" stroke-width="3.4" fill="none"/>
<path d="M301.74 1049.41H322.93" stroke="#000" stroke-width="5.2" fill="none"/>
<ellipse cx="312.33" cy="1037.05" rx="2.75" ry="3.3" fill="#ABDDA4" stroke="#000" stroke-width="3.2"/>
<ellipse cx="312.33" cy="1211.81" rx="2.75" ry="3.3" fill="#ABDDA4" stroke="#000" stroke-width="3.2"/>
<rect x="328.91" y="1056.77" width="19.68" height="19.97" fill="#ABDDA4" stroke="#000" stroke-width="1.5"/>
<path d="M328.91 1075.49H348.59" stroke="#000" stroke-width="3.4" fill="none"/>
<ellipse cx="338.75" cy="1009.69" rx="2.75" ry="3.3" fill="#ABDDA4" stroke="#000" stroke-width="3.2"/>
<ellipse cx="338.75" cy="1269.1" rx="2.75" ry="3.3" fill="#ABDDA4" stroke="#000" stroke-width="3.2"/>
<rect x="355.33" y="1078.89" width="19.68" height="5.14" fill="#ABDDA4" stroke="#000" stroke-width="1.5"/>
<path d="M355.33 1082.5H375.01" stroke="#000" stroke-width="4.0" fill="none"/>
<ellipse cx="365.17" cy="1059.34" rx="2.75" ry="3.3" fill="#ABDDA4" stroke="#000" stroke-width="3.2"/>
<ellipse cx="365.17" cy="1093.16" rx="2.75" ry="3.3" fill="#ABDDA4" stroke="#000" stroke-width="3.2"/>
<rect x="381.75" y="1036.46" width="19.68" height="21.88" fill="#ABDDA4" stroke="#000" stroke-width="1.5"/>
<path d="M381.75 1047.92H401.43" stroke="#000" stroke-width="3.4" fill="none"/>
<rect x="408.17" y="892.01" width="19.68" height="171.88" fill="#ABDDA4" stroke="#000" stroke-width="1.5"/>
<path d="M408.17 1054.86H427.85" stroke="#000" stroke-width="3.4" fill="none"/>
<path d="M433.84 802.08H455.02" stroke="#000" stroke-width="3.4" fill="none"/>
<ellipse cx="444.43" cy="1036.81" rx="2.75" ry="3.3" fill="#ABDDA4" stroke="#000" stroke-width="3.2"/>
<rect x="461.01" y="1096.18" width="19.68" height="261.81" fill="#2B83BA" stroke="#000" stroke-width="1.5"/>
<path d="M461.01 1325.69H480.69" stroke="#000" stroke-width="3.4" fill="none"/>
<rect x="487.43" y="1127.78" width="19.68" height="233.33" fill="#2B83BA" stroke="#000" stroke-width="1.5"/>
<path d="M487.43 1325.69H507.11" stroke="#000" stroke-width="3.4" fill="none"/>
<rect x="513.85" y="1098.26" width="19.68" height="188.19" fill="#2B83BA" stroke="#000" stroke-width="1.5"/>
<path d="M513.85 1272.57H533.53" stroke="#000" stroke-width="3.4" fill="none"/>
<rect x="540.26" y="1080.21" width="19.68" height="169.79" fill="#2B83BA" stroke="#000" stroke-width="1.5"/>
<path d="M540.26 1228.82H559.95" stroke="#000" stroke-width="3.4" fill="none"/>
<rect x="566.68" y="1096.18" width="19.68" height="188.54" fill="#2B83BA" stroke="#000" stroke-width="1.5"/>
<path d="M566.68 1278.12H586.37" stroke="#000" stroke-width="3.4" fill="none"/>
<rect x="593.1" y="1105.56" width="19.68" height="183.33" fill="#2B83BA" stroke="#000" stroke-width="1.5"/>
<path d="M593.1 1279.86H612.78" stroke="#000" stroke-width="3.4" fill="none"/>
<rect x="619.52" y="1030.56" width="19.68" height="22.57" fill="#DB171B" stroke="#000" stroke-width="1.5"/>
<path d="M619.52 1031.94H639.2" stroke="#000" stroke-width="3.4" fill="none"/>
<rect x="645.94" y="1048.96" width="19.68" height="22.22" fill="#DB171B" stroke="#000" stroke-width="1.5"/>
<path d="M645.94 1069.44H665.62" stroke="#000" stroke-width="3.4" fill="none"/>
<rect x="672.36" y="1045.49" width="19.68" height="27.43" fill="#DB171B" stroke="#000" stroke-width="1.5"/>
<path d="M672.36 1046.88H692.04" stroke="#000" stroke-width="3.4" fill="none"/>
<path d="M698.03 1035.42H719.21" stroke="#000" stroke-width="3.4" fill="none"/>
<ellipse cx="708.62" cy="1024.31" rx="2.75" ry="3.3" fill="#DB171B" stroke="#000" stroke-width="3.2"/>
<rect x="725.2" y="1032.64" width="19.68" height="7.29" fill="#DB171B" stroke="#000" stroke-width="1.5"/>
<path d="M725.2 1034.72H744.88" stroke="#000" stroke-width="3.4" fill="none"/>
<rect x="751.62" y="1047.57" width="19.68" height="19.79" fill="#DB171B" stroke="#000" stroke-width="1.5"/>
<path d="M751.62 1064.24H771.3" stroke="#000" stroke-width="3.4" fill="none"/>
</g>
<g>
<rect x="927" y="771" width="641.2" height="617.3" fill="#EFEFEF"/>
<path d="M927 828.47H1568.2M927 968.75H1568.2M927 1109.72H1568.2M927 1249.31H1568.2" stroke="#FFFFFF" stroke-width="2.6" fill="none"/>
<path d="M927 898.61H1568.2M927 1038.89H1568.2M927 1178.47H1568.2M927 1318.75H1568.2" stroke="#FFFFFF" stroke-width="6.6" fill="none"/>
<path d="M943.19 771V1388.3M969.61 771V1388.3M996.03 771V1388.3M1022.45 771V1388.3M1048.87 771V1388.3M1075.29 771V1388.3M1101.71 771V1388.3M1128.13 771V1388.3M1154.55 771V1388.3M1180.97 771V1388.3M1207.39 771V1388.3M1233.8 771V1388.3M1260.22 771V1388.3M1286.64 771V1388.3M1313.06 771V1388.3M1339.48 771V1388.3M1365.9 771V1388.3M1392.32 771V1388.3M1418.74 771V1388.3M1445.16 771V1388.3M1471.58 771V1388.3M1498 771V1388.3M1524.41 771V1388.3M1550.83 771V1388.3" stroke="#FFFFFF" stroke-width="5.6" fill="none"/>
<path d="M915.5 898.61H928M915.5 1038.89H928M915.5 1178.47H928M915.5 1318.75H928" stroke="#333333" stroke-width="7.0" fill="none"/>
<path d="M943.19 1388V1402.4M969.61 1388V1402.4M996.03 1388V1402.4M1022.45 1388V1402.4M1048.87 1388V1402.4M1075.29 1388V1402.4M1101.71 1388V1402.4M1128.13 1388V1402.4M1154.55 1388V1402.4M1180.97 1388V1402.4M1207.39 1388V1402.4M1233.8 1388V1402.4M1260.22 1388V1402.4M1286.64 1388V1402.4M1313.06 1388V1402.4M1339.48 1388V1402.4M1365.9 1388V1402.4M1392.32 1388V1402.4M1418.74 1388V1402.4M1445.16 1388V1402.4M1471.58 1388V1402.4M1498 1388V1402.4M1524.41 1388V1402.4M1550.83 1388V1402.4" stroke="#333333" stroke-width="5.4" fill="none"/>
<text transform="translate(909.4 910.61) scale(1 1.17)" text-anchor="end" font-size="30.2" fill="#0d0d0d" stroke="#0d0d0d" stroke-width="0.2">4</text>
<text transform="translate(909.4 1050.89) scale(1 1.17)" text-anchor="end" font-size="30.2" fill="#0d0d0d" stroke="#0d0d0d" stroke-width="0.2">3</text>
<text transform="translate(909.4 1190.47) scale(1 1.17)" text-anchor="end" font-size="30.2" fill="#0d0d0d" stroke="#0d0d0d" stroke-width="0.2">2</text>
<text transform="translate(909.4 1330.75) scale(1 1.17)" text-anchor="end" font-size="30.2" fill="#0d0d0d" stroke="#0d0d0d" stroke-width="0.2">1</text>
<path d="M943.19 1048.96V1052.78M936.19 1052.78H950.2M969.61 843.06V904.86M962.61 843.06H976.61M969.61 996.18V1010.76M962.61 1010.76H976.61M996.03 996.18V999.31M989.03 996.18H1003.03M1048.87 968.75V983.33M1041.87 968.75H1055.87M1048.87 996.18V1010.76M1041.87 1010.76H1055.87M1075.29 996.18V999.31M1068.29 996.18H1082.29M1075.29 1056.6V1080.21M1068.29 1080.21H1082.29M1101.71 996.18V999.31M1094.71 996.18H1108.71M1101.71 1012.85V1025.35M1094.71 1025.35H1108.71M1128.13 983.68V986.81M1121.13 983.68H1135.13M1180.97 996.18V1010.42M1173.97 996.18H1187.97M1180.97 1045.83V1080.21M1173.97 1080.21H1187.97M1207.39 968.75V983.33M1200.38 968.75H1214.39M1207.39 1206.25V1277.08M1200.38 1277.08H1214.39M1233.8 1347.22V1361.11M1226.8 1361.11H1240.81M1260.22 801.04V857.29M1253.22 801.04H1267.22M1260.22 987.15V1025.35M1253.22 1025.35H1267.22M1286.64 815.62V831.94M1279.64 815.62H1293.64M1286.64 954.51V983.33M1279.64 983.33H1293.64M1313.06 968.75V972.22M1306.06 968.75H1320.06M1313.06 992.71V1010.76M1306.06 1010.76H1320.06M1339.48 968.75V999.31M1332.48 968.75H1346.48M1339.48 1034.72V1037.85M1332.48 1037.85H1346.48M1365.9 954.51V972.22M1358.9 954.51H1372.9M1365.9 1014.58V1038.19M1358.9 1038.19H1372.9M1392.32 996.18V999.31M1385.32 996.18H1399.32M1392.32 1022.22V1038.19M1385.32 1038.19H1399.32" stroke="#000" stroke-width="1.55" fill="none"/>
<rect x="933.35" y="1038.19" width="19.68" height="10.76" fill="#FDAE61" stroke="#000" stroke-width="1.5"/>
<path d="M933.35 1039.24H953.04" stroke="#000" stroke-width="3.4" fill="none"/>
<rect x="959.77" y="904.86" width="19.68" height="91.32" fill="#FDAE61" stroke="#000" stroke-width="1.5"/>
<path d="M959.77 982.64H979.45" stroke="#000" stroke-width="3.4" fill="none"/>
<rect x="986.19" y="999.31" width="19.68" height="26.39" fill="#FDAE61" stroke="#000" stroke-width="1.5"/>
<path d="M986.19 1017.36H1005.87" stroke="#000" stroke-width="3.4" fill="none"/>
<ellipse cx="996.03" cy="954.86" rx="2.75" ry="3.3" fill="#FDAE61" stroke="#000" stroke-width="3.2"/>
<ellipse cx="996.03" cy="1109.03" rx="2.75" ry="3.3" fill="#FDAE61" stroke="#000" stroke-width="3.2"/>
<path d="M1011.86 1011.81H1033.04" stroke="#000" stroke-width="3.4" fill="none"/>
<ellipse cx="1022.45" cy="1025.35" rx="2.75" ry="3.3" fill="#FDAE61" stroke="#000" stroke-width="3.2"/>
<rect x="1039.03" y="983.33" width="19.68" height="12.85" fill="#FDAE61" stroke="#000" stroke-width="1.5"/>
<path d="M1039.03 989.58H1058.71" stroke="#000" stroke-width="3.4" fill="none"/>
<rect x="1065.45" y="999.31" width="19.68" height="57.29" fill="#FDAE61" stroke="#000" stroke-width="1.5"/>
<path d="M1065.45 1017.36H1085.13" stroke="#000" stroke-width="3.4" fill="none"/>
<rect x="1091.87" y="999.31" width="19.68" height="13.54" fill="#ABDDA4" stroke="#000" stroke-width="1.5"/>
<path d="M1091.87 1011.11H1111.55" stroke="#000" stroke-width="3.4" fill="none"/>
<ellipse cx="1101.71" cy="912.5" rx="2.75" ry="3.3" fill="#ABDDA4" stroke="#000" stroke-width="3.2"/>
<rect x="1118.29" y="986.81" width="19.68" height="11.11" fill="#ABDDA4" stroke="#000" stroke-width="1.5"/>
<path d="M1118.29 996.88H1137.97" stroke="#000" stroke-width="3.4" fill="none"/>
<ellipse cx="1128.13" cy="898.61" rx="2.75" ry="3.3" fill="#ABDDA4" stroke="#000" stroke-width="3.2"/>
<ellipse cx="1128.13" cy="1052.78" rx="2.75" ry="3.3" fill="#ABDDA4" stroke="#000" stroke-width="3.2"/>
<rect x="1144.71" y="996.18" width="19.68" height="14.58" fill="#ABDDA4" stroke="#000" stroke-width="1.5"/>
<path d="M1144.71 1004.17H1164.39" stroke="#000" stroke-width="3.4" fill="none"/>
<ellipse cx="1154.55" cy="968.75" rx="2.75" ry="3.3" fill="#ABDDA4" stroke="#000" stroke-width="3.2"/>
<rect x="1171.13" y="1010.42" width="19.68" height="35.42" fill="#ABDDA4" stroke="#000" stroke-width="1.5"/>
<path d="M1171.13 1016.67H1190.81" stroke="#000" stroke-width="3.4" fill="none"/>
<rect x="1197.54" y="983.33" width="19.68" height="222.92" fill="#ABDDA4" stroke="#000" stroke-width="1.5"/>
<path d="M1197.54 989.58H1217.23" stroke="#000" stroke-width="3.4" fill="none"/>
<rect x="1223.96" y="1333.33" width="19.68" height="13.89" fill="#ABDDA4" stroke="#000" stroke-width="1.5"/>
<path d="M1223.96 1339.58H1243.65" stroke="#000" stroke-width="3.4" fill="none"/>
<ellipse cx="1233.8" cy="1038.54" rx="2.75" ry="3.3" fill="#ABDDA4" stroke="#000" stroke-width="3.2"/>
<rect x="1250.38" y="857.29" width="19.68" height="129.86" fill="#2B83BA" stroke="#000" stroke-width="1.5"/>
<path d="M1250.38 863.54H1270.06" stroke="#000" stroke-width="3.4" fill="none"/>
<rect x="1276.8" y="831.94" width="19.68" height="122.57" fill="#2B83BA" stroke="#000" stroke-width="1.5"/>
<path d="M1276.8 856.6H1296.48" stroke="#000" stroke-width="3.4" fill="none"/>
<rect x="1303.22" y="972.22" width="19.68" height="20.49" fill="#2B83BA" stroke="#000" stroke-width="1.5"/>
<path d="M1303.22 982.64H1322.9" stroke="#000" stroke-width="3.4" fill="none"/>
<ellipse cx="1313.06" cy="927.08" rx="2.75" ry="3.3" fill="#2B83BA" stroke="#000" stroke-width="3.2"/>
<rect x="1329.64" y="999.31" width="19.68" height="35.42" fill="#2B83BA" stroke="#000" stroke-width="1.5"/>
<path d="M1329.64 1017.36H1349.32" stroke="#000" stroke-width="3.4" fill="none"/>
<rect x="1356.06" y="972.22" width="19.68" height="42.36" fill="#2B83BA" stroke="#000" stroke-width="1.5"/>
<path d="M1356.06 982.64H1375.74" stroke="#000" stroke-width="3.4" fill="none"/>
<rect x="1382.48" y="999.31" width="19.68" height="22.92" fill="#2B83BA" stroke="#000" stroke-width="1.5"/>
<path d="M1382.48 1011.81H1402.16" stroke="#000" stroke-width="3.4" fill="none"/>
<rect x="1408.9" y="996.18" width="19.68" height="16.67" fill="#DB171B" stroke="#000" stroke-width="1.5"/>
<path d="M1408.9 1011.11H1428.58" stroke="#000" stroke-width="3.4" fill="none"/>
<path d="M1434.57 996.88H1455.75" stroke="#000" stroke-width="3.4" fill="none"/>
<ellipse cx="1445.16" cy="968.75" rx="2.75" ry="3.3" fill="#DB171B" stroke="#000" stroke-width="3.2"/>
<rect x="1461.73" y="968.75" width="19.68" height="42.01" fill="#DB171B" stroke="#000" stroke-width="1.5"/>
<path d="M1461.73 997.22H1481.42" stroke="#000" stroke-width="3.4" fill="none"/>
<rect x="1488.15" y="1023.61" width="19.68" height="14.58" fill="#DB171B" stroke="#000" stroke-width="1.5"/>
<path d="M1488.15 1024.65H1507.84" stroke="#000" stroke-width="3.4" fill="none"/>
<path d="M1513.82 1024.65H1535.01" stroke="#000" stroke-width="3.4" fill="none"/>
<rect x="1540.99" y="981.25" width="19.68" height="44.44" fill="#DB171B" stroke="#000" stroke-width="1.5"/>
<path d="M1540.99 982.64H1560.67" stroke="#000" stroke-width="3.4" fill="none"/>
</g>
<g>
<rect x="1731.9" y="771" width="641.1" height="617.3" fill="#EFEFEF"/>
<path d="M1731.9 841.67H2373M1731.9 943.4H2373M1731.9 1045.14H2373M1731.9 1146.53H2373M1731.9 1248.96H2373M1731.9 1350.35H2373" stroke="#FFFFFF" stroke-width="2.6" fill="none"/>
<path d="M1731.9 790.97H2373M1731.9 892.36H2373M1731.9 994.44H2373M1731.9 1095.83H2373M1731.9 1197.57H2373M1731.9 1299.65H2373" stroke="#FFFFFF" stroke-width="6.6" fill="none"/>
<path d="M1749.53 771V1388.3M1775.93 771V1388.3M1802.34 771V1388.3M1828.74 771V1388.3M1855.14 771V1388.3M1881.55 771V1388.3M1907.95 771V1388.3M1934.36 771V1388.3M1960.76 771V1388.3M1987.16 771V1388.3M2013.57 771V1388.3M2039.97 771V1388.3M2066.38 771V1388.3M2092.78 771V1388.3M2119.18 771V1388.3M2145.59 771V1388.3M2171.99 771V1388.3M2198.4 771V1388.3M2224.8 771V1388.3M2251.2 771V1388.3M2277.61 771V1388.3M2304.01 771V1388.3M2330.42 771V1388.3M2356.82 771V1388.3" stroke="#FFFFFF" stroke-width="5.6" fill="none"/>
<path d="M1720.4 790.97H1732.9M1720.4 892.36H1732.9M1720.4 994.44H1732.9M1720.4 1095.83H1732.9M1720.4 1197.57H1732.9M1720.4 1299.65H1732.9" stroke="#333333" stroke-width="7.0" fill="none"/>
<path d="M1749.53 1388V1402.4M1775.93 1388V1402.4M1802.34 1388V1402.4M1828.74 1388V1402.4M1855.14 1388V1402.4M1881.55 1388V1402.4M1907.95 1388V1402.4M1934.36 1388V1402.4M1960.76 1388V1402.4M1987.16 1388V1402.4M2013.57 1388V1402.4M2039.97 1388V1402.4M2066.38 1388V1402.4M2092.78 1388V1402.4M2119.18 1388V1402.4M2145.59 1388V1402.4M2171.99 1388V1402.4M2198.4 1388V1402.4M2224.8 1388V1402.4M2251.2 1388V1402.4M2277.61 1388V1402.4M2304.01 1388V1402.4M2330.42 1388V1402.4M2356.82 1388V1402.4" stroke="#333333" stroke-width="5.4" fill="none"/>
<text transform="translate(1714.3 802.97) scale(1 1.17)" text-anchor="end" font-size="30.2" fill="#0d0d0d" stroke="#0d0d0d" stroke-width="0.2">7</text>
<text transform="translate(1714.3 904.36) scale(1 1.17)" text-anchor="end" font-size="30.2" fill="#0d0d0d" stroke="#0d0d0d" stroke-width="0.2">6</text>
<text transform="translate(1714.3 1006.44) scale(1 1.17)" text-anchor="end" font-size="30.2" fill="#0d0d0d" stroke="#0d0d0d" stroke-width="0.2">5</text>
<text transform="translate(1714.3 1107.83) scale(1 1.17)" text-anchor="end" font-size="30.2" fill="#0d0d0d" stroke="#0d0d0d" stroke-width="0.2">4</text>
<text transform="translate(1714.3 1209.57) scale(1 1.17)" text-anchor="end" font-size="30.2" fill="#0d0d0d" stroke="#0d0d0d" stroke-width="0.2">3</text>
<text transform="translate(1714.3 1311.65) scale(1 1.17)" text-anchor="end" font-size="30.2" fill="#0d0d0d" stroke="#0d0d0d" stroke-width="0.2">2</text>
<path d="M1749.53 1051.04V1054.86M1742.53 1054.86H1756.52M1775.93 841.32V904.86M1768.93 841.32H1782.93M1775.93 1001.74V1014.58M1768.93 1014.58H1782.93M1802.34 943.4V974.31M1795.34 943.4H1809.33M1802.34 1021.88V1025.35M1795.34 1025.35H1809.33M1855.14 983.68V987.15M1848.15 983.68H1862.14M1855.14 1001.74V1005.21M1848.15 1005.21H1862.14M1881.55 994.44V1007.29M1874.55 994.44H1888.54M1881.55 1065.62V1085.76M1874.55 1085.76H1888.54M1907.95 1005.38V1006.94M1900.95 1005.38H1914.95M1907.95 1016.49V1025.35M1900.95 1025.35H1914.95M1934.36 922.92V976.04M1927.36 922.92H1941.35M1934.36 1014.58V1065.62M1927.36 1065.62H1941.35M1960.76 1005.38V1006.94M1953.76 1005.38H1967.76M1987.16 1005.38V1006.94M1980.17 1005.38H1994.16M1987.16 1047.22V1076.39M1980.17 1076.39H1994.16M2013.57 974.31V987.15M2006.57 974.31H2020.56M2013.57 1224.31V1309.72M2006.57 1309.72H2020.56M2039.97 1329.86V1333.33M2032.97 1329.86H2046.97M2039.97 1359.38V1361.11M2032.97 1361.11H2046.97M2066.38 983.68V994.44M2059.38 983.68H2073.37M2092.78 1019.79V1054.51M2085.78 1054.51H2099.78M2119.18 821.18V915.97M2112.19 821.18H2126.18M2119.18 1000V1025.35M2112.19 1025.35H2126.18M2171.99 983.68V992.71M2164.99 983.68H2178.99M2171.99 1025.35V1045.49M2164.99 1045.49H2178.99M2198.4 1021.88V1025.35M2191.4 1025.35H2205.39" stroke="#000" stroke-width="1.55" fill="none"/>
<rect x="1739.69" y="1034.72" width="19.67" height="16.32" fill="#FDAE61" stroke="#000" stroke-width="1.5"/>
<path d="M1739.69 1035.76H1759.36" stroke="#000" stroke-width="3.4" fill="none"/>
<rect x="1766.1" y="904.86" width="19.67" height="96.88" fill="#FDAE61" stroke="#000" stroke-width="1.5"/>
<path d="M1766.1 984.38H1785.77" stroke="#000" stroke-width="3.4" fill="none"/>
<rect x="1792.5" y="974.31" width="19.67" height="47.57" fill="#FDAE61" stroke="#000" stroke-width="1.5"/>
<path d="M1792.5 1009.38H1812.17" stroke="#000" stroke-width="3.4" fill="none"/>
<path d="M1818.15 1015.28H1839.33" stroke="#000" stroke-width="3.4" fill="none"/>
<ellipse cx="1828.74" cy="1004.51" rx="2.75" ry="3.3" fill="#FDAE61" stroke="#000" stroke-width="3.2"/>
<ellipse cx="1828.74" cy="1035.42" rx="2.75" ry="3.3" fill="#FDAE61" stroke="#000" stroke-width="3.2"/>
<rect x="1845.31" y="987.15" width="19.67" height="14.58" fill="#FDAE61" stroke="#000" stroke-width="1.5"/>
<path d="M1845.31 993.06H1864.98" stroke="#000" stroke-width="3.4" fill="none"/>
<ellipse cx="1855.14" cy="963.54" rx="2.75" ry="3.3" fill="#FDAE61" stroke="#000" stroke-width="3.2"/>
<rect x="1871.71" y="1007.29" width="19.67" height="58.33" fill="#FDAE61" stroke="#000" stroke-width="1.5"/>
<path d="M1871.71 1024.65H1891.38" stroke="#000" stroke-width="3.4" fill="none"/>
<rect x="1898.12" y="1006.94" width="19.67" height="9.55" fill="#ABDDA4" stroke="#000" stroke-width="1.5"/>
<path d="M1898.12 1014.76H1917.79" stroke="#000" stroke-width="4.0" fill="none"/>
<ellipse cx="1907.95" cy="912.5" rx="2.75" ry="3.3" fill="#ABDDA4" stroke="#000" stroke-width="3.2"/>
<rect x="1924.52" y="976.04" width="19.67" height="38.54" fill="#ABDDA4" stroke="#000" stroke-width="1.5"/>
<path d="M1924.52 984.38H1944.19" stroke="#000" stroke-width="3.4" fill="none"/>
<rect x="1950.92" y="1006.94" width="19.67" height="9.55" fill="#ABDDA4" stroke="#000" stroke-width="1.5"/>
<path d="M1950.92 1014.76H1970.6" stroke="#000" stroke-width="4.0" fill="none"/>
<ellipse cx="1960.76" cy="963.54" rx="2.75" ry="3.3" fill="#ABDDA4" stroke="#000" stroke-width="3.2"/>
<ellipse cx="1960.76" cy="1035.42" rx="2.75" ry="3.3" fill="#ABDDA4" stroke="#000" stroke-width="3.2"/>
<rect x="1977.33" y="1006.94" width="19.67" height="40.28" fill="#ABDDA4" stroke="#000" stroke-width="1.5"/>
<path d="M1977.33 1019.1H1997" stroke="#000" stroke-width="3.4" fill="none"/>
<rect x="2003.73" y="987.15" width="19.67" height="237.15" fill="#ABDDA4" stroke="#000" stroke-width="1.5"/>
<path d="M2003.73 993.06H2023.4" stroke="#000" stroke-width="3.4" fill="none"/>
<rect x="2030.14" y="1333.33" width="19.67" height="26.04" fill="#ABDDA4" stroke="#000" stroke-width="1.5"/>
<path d="M2030.14 1345.49H2049.81" stroke="#000" stroke-width="3.4" fill="none"/>
<ellipse cx="2039.97" cy="1035.42" rx="2.75" ry="3.3" fill="#ABDDA4" stroke="#000" stroke-width="3.2"/>
<rect x="2056.54" y="994.44" width="19.67" height="40.28" fill="#2B83BA" stroke="#000" stroke-width="1.5"/>
<path d="M2056.54 1029.17H2076.21" stroke="#000" stroke-width="3.4" fill="none"/>
<ellipse cx="2066.38" cy="801.04" rx="2.75" ry="3.3" fill="#2B83BA" stroke="#000" stroke-width="3.2"/>
<rect x="2082.94" y="963.54" width="19.67" height="56.25" fill="#2B83BA" stroke="#000" stroke-width="1.5"/>
<path d="M2082.94 967.71H2102.62" stroke="#000" stroke-width="3.4" fill="none"/>
<ellipse cx="2092.78" cy="811.11" rx="2.75" ry="3.3" fill="#2B83BA" stroke="#000" stroke-width="3.2"/>
<rect x="2109.35" y="915.97" width="19.67" height="84.03" fill="#2B83BA" stroke="#000" stroke-width="1.5"/>
<path d="M2109.35 967.71H2129.02" stroke="#000" stroke-width="3.4" fill="none"/>
<rect x="2135.75" y="1025.69" width="19.67" height="11.11" fill="#2B83BA" stroke="#000" stroke-width="1.5"/>
<path d="M2135.75 1034.72H2155.42" stroke="#000" stroke-width="3.4" fill="none"/>
<rect x="2162.16" y="992.71" width="19.67" height="32.64" fill="#2B83BA" stroke="#000" stroke-width="1.5"/>
<path d="M2162.16 1019.1H2181.83" stroke="#000" stroke-width="3.4" fill="none"/>
<ellipse cx="2171.99" cy="851.74" rx="2.75" ry="3.3" fill="#2B83BA" stroke="#000" stroke-width="3.2"/>
<rect x="2188.56" y="1005.56" width="19.67" height="16.32" fill="#2B83BA" stroke="#000" stroke-width="1.5"/>
<path d="M2188.56 1009.03H2208.23" stroke="#000" stroke-width="3.4" fill="none"/>
<ellipse cx="2198.4" cy="953.82" rx="2.75" ry="3.3" fill="#2B83BA" stroke="#000" stroke-width="3.2"/>
<rect x="2214.96" y="1005.56" width="19.67" height="40.28" fill="#DB171B" stroke="#000" stroke-width="1.5"/>
<path d="M2214.96 1024.65H2234.64" stroke="#000" stroke-width="3.4" fill="none"/>
<rect x="2241.37" y="963.54" width="19.67" height="42.01" fill="#DB171B" stroke="#000" stroke-width="1.5"/>
<path d="M2241.37 964.58H2261.04" stroke="#000" stroke-width="3.4" fill="none"/>
<rect x="2267.77" y="974.31" width="19.67" height="40.28" fill="#DB171B" stroke="#000" stroke-width="1.5"/>
<path d="M2267.77 1004.51H2287.44" stroke="#000" stroke-width="3.4" fill="none"/>
<path d="M2293.43 1024.65H2314.6" stroke="#000" stroke-width="3.4" fill="none"/>
<ellipse cx="2304.01" cy="1035.42" rx="2.75" ry="3.3" fill="#DB171B" stroke="#000" stroke-width="3.2"/>
<rect x="2320.58" y="1025.35" width="19.67" height="11.46" fill="#DB171B" stroke="#000" stroke-width="1.5"/>
<path d="M2320.58 1034.72H2340.25" stroke="#000" stroke-width="3.4" fill="none"/>
<rect x="2346.98" y="983.68" width="19.67" height="51.04" fill="#DB171B" stroke="#000" stroke-width="1.5"/>
<path d="M2346.98 985.07H2366.65" stroke="#000" stroke-width="3.4" fill="none"/>
<text transform="translate(1749.53 1521.15) rotate(-90) scale(1.1 1.0)" font-size="31" fill="#0d0d0d" stroke="#0d0d0d" stroke-width="0.25">BSxH</text>
<text transform="translate(1775.93 1521.15) rotate(-90) scale(1.1 1.0)" font-size="31" fill="#0d0d0d" stroke="#0d0d0d" stroke-width="0.25">BSxG1</text>
<text transform="translate(1802.34 1521.15) rotate(-90) scale(1.1 1.0)" font-size="31" fill="#0d0d0d" stroke="#0d0d0d" stroke-width="0.25">BSxG2</text>
<text transform="translate(1828.74 1521.15) rotate(-90) scale(1.1 1.0)" font-size="31" fill="#0d0d0d" stroke="#0d0d0d" stroke-width="0.25">BSxG3</text>
<text transform="translate(1855.14 1521.15) rotate(-90) scale(1.1 1.0)" font-size="31" fill="#0d0d0d" stroke="#0d0d0d" stroke-width="0.25">GxH1</text>
<text transform="translate(1881.55 1521.15) rotate(-90) scale(1.1 1.0)" font-size="31" fill="#0d0d0d" stroke="#0d0d0d" stroke-width="0.25">BSxB</text>
<text transform="translate(1907.95 1521.15) rotate(-90) scale(1.1 1.0)" font-size="31" fill="#0d0d0d" stroke="#0d0d0d" stroke-width="0.25">GxH2</text>
<text transform="translate(1934.36 1521.15) rotate(-90) scale(1.1 1.0)" font-size="31" fill="#0d0d0d" stroke="#0d0d0d" stroke-width="0.25">BSxG4</text>
<text transform="translate(1960.76 1521.15) rotate(-90) scale(1.1 1.0)" font-size="31" fill="#0d0d0d" stroke="#0d0d0d" stroke-width="0.25">GxH3</text>
<text transform="translate(1987.16 1521.15) rotate(-90) scale(1.1 1.0)" font-size="31" fill="#0d0d0d" stroke="#0d0d0d" stroke-width="0.25">GxH4</text>
<text transform="translate(2013.57 1521.15) rotate(-90) scale(1.1 1.0)" font-size="31" fill="#0d0d0d" stroke="#0d0d0d" stroke-width="0.25">BSxJ1</text>
<text transform="translate(2039.97 1521.15) rotate(-90) scale(1.1 1.0)" font-size="31" fill="#0d0d0d" stroke="#0d0d0d" stroke-width="0.25">BSxJ2</text>
<text transform="translate(2066.38 1521.15) rotate(-90) scale(1.1 1.0)" font-size="31" fill="#0d0d0d" stroke="#0d0d0d" stroke-width="0.25">GxH5</text>
<text transform="translate(2092.78 1521.15) rotate(-90) scale(1.1 1.0)" font-size="31" fill="#0d0d0d" stroke="#0d0d0d" stroke-width="0.25">GxH6</text>
<text transform="translate(2119.18 1521.15) rotate(-90) scale(1.1 1.0)" font-size="31" fill="#0d0d0d" stroke="#0d0d0d" stroke-width="0.25">GxH7</text>
<text transform="translate(2145.59 1521.15) rotate(-90) scale(1.1 1.0)" font-size="31" fill="#0d0d0d" stroke="#0d0d0d" stroke-width="0.25">GxH8</text>
<text transform="translate(2171.99 1521.15) rotate(-90) scale(1.1 1.0)" font-size="31" fill="#0d0d0d" stroke="#0d0d0d" stroke-width="0.25">GxH9</text>
<text transform="translate(2198.4 1521.15) rotate(-90) scale(1.1 1.0)" font-size="31" fill="#0d0d0d" stroke="#0d0d0d" stroke-width="0.25">GxH10</text>
<text transform="translate(2224.8 1521.15) rotate(-90) scale(1.1 1.0)" font-size="31" fill="#0d0d0d" stroke="#0d0d0d" stroke-width="0.25">BSxG5</text>
<text transform="translate(2251.2 1521.15) rotate(-90) scale(1.1 1.0)" font-size="31" fill="#0d0d0d" stroke="#0d0d0d" stroke-width="0.25">BSxG6</text>
<text transform="translate(2277.61 1521.15) rotate(-90) scale(1.1 1.0)" font-size="31" fill="#0d0d0d" stroke="#0d0d0d" stroke-width="0.25">BxH1</text>
<text transform="translate(2304.01 1521.15) rotate(-90) scale(1.1 1.0)" font-size="31" fill="#0d0d0d" stroke="#0d0d0d" stroke-width="0.25">GxH11</text>
<text transform="translate(2330.42 1521.15) rotate(-90) scale(1.1 1.0)" font-size="31" fill="#0d0d0d" stroke="#0d0d0d" stroke-width="0.25">GxH12</text>
<text transform="translate(2356.82 1521.15) rotate(-90) scale(1.1 1.0)" font-size="31" fill="#0d0d0d" stroke="#0d0d0d" stroke-width="0.25">BxH2</text>
</g>
<g>
<rect x="132.9" y="1426.6" width="644.2" height="617" fill="#EFEFEF"/>
<path d="M132.9 1492.36H777.1M132.9 1641.67H777.1M132.9 1791.32H777.1M132.9 1939.58H777.1" stroke="#FFFFFF" stroke-width="2.6" fill="none"/>
<path d="M132.9 1566.67H777.1M132.9 1715.97H777.1M132.9 1865.62H777.1M132.9 2014.93H777.1" stroke="#FFFFFF" stroke-width="6.6" fill="none"/>
<path d="M148.96 1426.6V2043.6M175.51 1426.6V2043.6M202.07 1426.6V2043.6M228.62 1426.6V2043.6M255.18 1426.6V2043.6M281.73 1426.6V2043.6M308.29 1426.6V2043.6M334.84 1426.6V2043.6M361.4 1426.6V2043.6M387.95 1426.6V2043.6M414.51 1426.6V2043.6M441.06 1426.6V2043.6M467.62 1426.6V2043.6M494.17 1426.6V2043.6M520.73 1426.6V2043.6M547.28 1426.6V2043.6M573.84 1426.6V2043.6M600.39 1426.6V2043.6M626.95 1426.6V2043.6M653.5 1426.6V2043.6M680.06 1426.6V2043.6M706.61 1426.6V2043.6M733.17 1426.6V2043.6M759.72 1426.6V2043.6" stroke="#FFFFFF" stroke-width="5.6" fill="none"/>
<path d="M121.4 1566.67H133.9M121.4 1715.97H133.9M121.4 1865.62H133.9M121.4 2014.93H133.9" stroke="#333333" stroke-width="7.0" fill="none"/>
<path d="M148.96 2042.5V2055.2M175.51 2042.5V2055.2M202.07 2042.5V2055.2M228.62 2042.5V2055.2M255.18 2042.5V2055.2M281.73 2042.5V2055.2M308.29 2042.5V2055.2M334.84 2042.5V2055.2M361.4 2042.5V2055.2M387.95 2042.5V2055.2M414.51 2042.5V2055.2M441.06 2042.5V2055.2M467.62 2042.5V2055.2M494.17 2042.5V2055.2M520.73 2042.5V2055.2M547.28 2042.5V2055.2M573.84 2042.5V2055.2M600.39 2042.5V2055.2M626.95 2042.5V2055.2M653.5 2042.5V2055.2M680.06 2042.5V2055.2M706.61 2042.5V2055.2M733.17 2042.5V2055.2M759.72 2042.5V2055.2" stroke="#333333" stroke-width="5.4" fill="none"/>
<text transform="translate(115.3 1578.67) scale(1 1.17)" text-anchor="end" font-size="30.2" fill="#0d0d0d" stroke="#0d0d0d" stroke-width="0.2">0.8</text>
<text transform="translate(115.3 1727.97) scale(1 1.17)" text-anchor="end" font-size="30.2" fill="#0d0d0d" stroke="#0d0d0d" stroke-width="0.2">0.6</text>
<text transform="translate(115.3 1877.62) scale(1 1.17)" text-anchor="end" font-size="30.2" fill="#0d0d0d" stroke="#0d0d0d" stroke-width="0.2">0.4</text>
<text transform="translate(115.3 2026.93) scale(1 1.17)" text-anchor="end" font-size="30.2" fill="#0d0d0d" stroke="#0d0d0d" stroke-width="0.2">0.2</text>
<path d="M175.51 1567.71V1583.68M168.48 1567.71H182.55M202.07 1567.71V1590.97M195.03 1567.71H209.11M202.07 1642.36V1716.67M195.03 1716.67H209.11M228.62 1626.04V1640.62M221.59 1626.04H235.66M228.62 1659.03V1664.24M221.59 1664.24H235.66M281.73 1697.22V1716.67M274.7 1716.67H288.77M308.29 1626.04V1629.51M301.25 1626.04H315.33M387.95 1626.04V1631.25M380.92 1626.04H394.99M387.95 1697.22V1716.67M380.92 1716.67H394.99M414.51 1618.75V1642.36M407.47 1618.75H421.54M414.51 1742.71V1775.35M407.47 1775.35H421.54M441.06 1716.67V1775.35M434.03 1716.67H448.1M441.06 1899.65V2014.24M434.03 2014.24H448.1M467.62 1631.25V1642.01M460.58 1642.01H474.65M494.17 1454.51V1507.64M487.14 1454.51H501.21M494.17 1622.22V1642.01M487.14 1642.01H501.21M520.73 1600.35V1618.4M513.69 1618.4H527.76M547.28 1626.04V1640.62M540.25 1626.04H554.32M547.28 1697.22V1716.67M540.25 1716.67H554.32M573.84 1492.71V1578.47M566.8 1492.71H580.87M573.84 1640.28V1716.67M566.8 1716.67H580.87M600.39 1567.71V1585.76M593.36 1567.71H607.43M626.95 1635.07V1642.01M619.91 1642.01H633.98M653.5 1611.11V1618.75M646.47 1611.11H660.54M680.06 1604.17V1611.11M673.02 1604.17H687.09M680.06 1635.42V1664.24M673.02 1664.24H687.09M706.61 1604.17V1618.75M699.58 1604.17H713.65M706.61 1657.29V1664.24M699.58 1664.24H713.65M733.17 1604.17V1618.75M726.13 1604.17H740.2M733.17 1664.58V1716.67M726.13 1716.67H740.2" stroke="#000" stroke-width="1.55" fill="none"/>
<path d="M138.32 1715.97H159.6" stroke="#000" stroke-width="3.4" fill="none"/>
<rect x="165.62" y="1583.68" width="19.78" height="58.68" fill="#FDAE61" stroke="#000" stroke-width="1.5"/>
<path d="M165.62 1638.19H185.41" stroke="#000" stroke-width="3.4" fill="none"/>
<rect x="192.18" y="1590.97" width="19.78" height="51.39" fill="#FDAE61" stroke="#000" stroke-width="1.5"/>
<path d="M192.18 1640.97H211.96" stroke="#000" stroke-width="3.4" fill="none"/>
<rect x="218.73" y="1640.62" width="19.78" height="18.4" fill="#FDAE61" stroke="#000" stroke-width="1.5"/>
<path d="M218.73 1641.32H238.51" stroke="#000" stroke-width="3.4" fill="none"/>
<ellipse cx="228.62" cy="1716.67" rx="2.75" ry="3.3" fill="#FDAE61" stroke="#000" stroke-width="3.2"/>
<path d="M244.54 1640.97H265.82" stroke="#000" stroke-width="3.4" fill="none"/>
<ellipse cx="255.18" cy="1619.44" rx="2.75" ry="3.3" fill="#FDAE61" stroke="#000" stroke-width="3.2"/>
<rect x="271.84" y="1640.62" width="19.78" height="56.6" fill="#FDAE61" stroke="#000" stroke-width="1.5"/>
<path d="M271.84 1641.32H291.62" stroke="#000" stroke-width="3.4" fill="none"/>
<rect x="298.4" y="1629.51" width="19.78" height="12.85" fill="#ABDDA4" stroke="#000" stroke-width="1.5"/>
<path d="M298.4 1638.19H318.18" stroke="#000" stroke-width="3.4" fill="none"/>
<ellipse cx="308.29" cy="1529.86" rx="2.75" ry="3.3" fill="#ABDDA4" stroke="#000" stroke-width="3.2"/>
<path d="M324.2 1640.97H345.48" stroke="#000" stroke-width="3.4" fill="none"/>
<ellipse cx="334.84" cy="1522.22" rx="2.75" ry="3.3" fill="#ABDDA4" stroke="#000" stroke-width="3.2"/>
<ellipse cx="334.84" cy="1716.67" rx="2.75" ry="3.3" fill="#ABDDA4" stroke="#000" stroke-width="3.2"/>
<path d="M350.76 1640.97H372.04" stroke="#000" stroke-width="3.4" fill="none"/>
<ellipse cx="361.4" cy="1619.44" rx="2.75" ry="3.3" fill="#ABDDA4" stroke="#000" stroke-width="3.2"/>
<ellipse cx="361.4" cy="1716.67" rx="2.75" ry="3.3" fill="#ABDDA4" stroke="#000" stroke-width="3.2"/>
<rect x="378.06" y="1631.25" width="19.78" height="65.97" fill="#ABDDA4" stroke="#000" stroke-width="1.5"/>
<path d="M378.06 1640.97H397.84" stroke="#000" stroke-width="3.4" fill="none"/>
<rect x="404.62" y="1642.36" width="19.78" height="100.35" fill="#ABDDA4" stroke="#000" stroke-width="1.5"/>
<path d="M404.62 1652.08H424.4" stroke="#000" stroke-width="3.4" fill="none"/>
<rect x="431.17" y="1775.35" width="19.78" height="124.31" fill="#ABDDA4" stroke="#000" stroke-width="1.5"/>
<path d="M431.17 1776.39H450.95" stroke="#000" stroke-width="3.4" fill="none"/>
<rect x="457.73" y="1567.71" width="19.78" height="63.54" fill="#2B83BA" stroke="#000" stroke-width="1.5"/>
<path d="M457.73 1593.75H477.51" stroke="#000" stroke-width="3.4" fill="none"/>
<rect x="484.28" y="1507.64" width="19.78" height="114.58" fill="#2B83BA" stroke="#000" stroke-width="1.5"/>
<path d="M484.28 1559.38H504.06" stroke="#000" stroke-width="3.4" fill="none"/>
<rect x="510.84" y="1565.97" width="19.78" height="34.38" fill="#2B83BA" stroke="#000" stroke-width="1.5"/>
<path d="M510.84 1567.36H530.62" stroke="#000" stroke-width="3.4" fill="none"/>
<ellipse cx="520.73" cy="1500" rx="2.75" ry="3.3" fill="#2B83BA" stroke="#000" stroke-width="3.2"/>
<rect x="537.39" y="1640.62" width="19.78" height="56.6" fill="#2B83BA" stroke="#000" stroke-width="1.5"/>
<path d="M537.39 1641.32H557.17" stroke="#000" stroke-width="3.4" fill="none"/>
<rect x="563.95" y="1578.47" width="19.78" height="61.81" fill="#2B83BA" stroke="#000" stroke-width="1.5"/>
<path d="M563.95 1622.92H583.73" stroke="#000" stroke-width="3.4" fill="none"/>
<rect x="590.5" y="1585.76" width="19.78" height="56.6" fill="#2B83BA" stroke="#000" stroke-width="1.5"/>
<path d="M590.5 1640.28H610.28" stroke="#000" stroke-width="3.4" fill="none"/>
<ellipse cx="600.39" cy="1492.71" rx="2.75" ry="3.3" fill="#2B83BA" stroke="#000" stroke-width="3.2"/>
<rect x="617.06" y="1625.69" width="19.78" height="9.38" fill="#DB171B" stroke="#000" stroke-width="1.5"/>
<path d="M617.06 1627.43H636.84" stroke="#000" stroke-width="3.4" fill="none"/>
<rect x="643.61" y="1618.75" width="19.78" height="7.29" fill="#DB171B" stroke="#000" stroke-width="1.5"/>
<path d="M643.61 1622.22H663.39" stroke="#000" stroke-width="3.4" fill="none"/>
<ellipse cx="653.5" cy="1641.67" rx="2.75" ry="3.3" fill="#DB171B" stroke="#000" stroke-width="3.2"/>
<rect x="670.17" y="1611.11" width="19.78" height="24.31" fill="#DB171B" stroke="#000" stroke-width="1.5"/>
<path d="M670.17 1633.33H689.95" stroke="#000" stroke-width="3.4" fill="none"/>
<rect x="696.72" y="1618.75" width="19.78" height="38.54" fill="#DB171B" stroke="#000" stroke-width="1.5"/>
<path d="M696.72 1640.97H716.5" stroke="#000" stroke-width="3.4" fill="none"/>
<rect x="723.28" y="1618.75" width="19.78" height="45.83" fill="#DB171B" stroke="#000" stroke-width="1.5"/>
<path d="M723.28 1648.61H743.06" stroke="#000" stroke-width="3.4" fill="none"/>
<rect x="749.83" y="1604.17" width="19.78" height="38.19" fill="#DB171B" stroke="#000" stroke-width="1.5"/>
<path d="M749.83 1633.68H769.61" stroke="#000" stroke-width="3.4" fill="none"/>
<text transform="translate(148.96 2172.95) rotate(-90) scale(1.1 1.0)" font-size="31" fill="#0d0d0d" stroke="#0d0d0d" stroke-width="0.25">BSxH</text>
<text transform="translate(175.51 2172.95) rotate(-90) scale(1.1 1.0)" font-size="31" fill="#0d0d0d" stroke="#0d0d0d" stroke-width="0.25">BSxG1</text>
<text transform="translate(202.07 2172.95) rotate(-90) scale(1.1 1.0)" font-size="31" fill="#0d0d0d" stroke="#0d0d0d" stroke-width="0.25">BSxG2</text>
<text transform="translate(228.62 2172.95) rotate(-90) scale(1.1 1.0)" font-size="31" fill="#0d0d0d" stroke="#0d0d0d" stroke-width="0.25">BSxG3</text>
<text transform="translate(255.18 2172.95) rotate(-90) scale(1.1 1.0)" font-size="31" fill="#0d0d0d" stroke="#0d0d0d" stroke-width="0.25">GxH1</text>
<text transform="translate(281.73 2172.95) rotate(-90) scale(1.1 1.0)" font-size="31" fill="#0d0d0d" stroke="#0d0d0d" stroke-width="0.25">BSxB</text>
<text transform="translate(308.29 2172.95) rotate(-90) scale(1.1 1.0)" font-size="31" fill="#0d0d0d" stroke="#0d0d0d" stroke-width="0.25">GxH2</text>
<text transform="translate(334.84 2172.95) rotate(-90) scale(1.1 1.0)" font-size="31" fill="#0d0d0d" stroke="#0d0d0d" stroke-width="0.25">BSxG4</text>
<text transform="translate(361.4 2172.95) rotate(-90) scale(1.1 1.0)" font-size="31" fill="#0d0d0d" stroke="#0d0d0d" stroke-width="0.25">GxH3</text>
<text transform="translate(387.95 2172.95) rotate(-90) scale(1.1 1.0)" font-size="31" fill="#0d0d0d" stroke="#0d0d0d" stroke-width="0.25">GxH4</text>
<text transform="translate(414.51 2172.95) rotate(-90) scale(1.1 1.0)" font-size="31" fill="#0d0d0d" stroke="#0d0d0d" stroke-width="0.25">BSxJ1</text>
<text transform="translate(441.06 2172.95) rotate(-90) scale(1.1 1.0)" font-size="31" fill="#0d0d0d" stroke="#0d0d0d" stroke-width="0.25">BSxJ2</text>
<text transform="translate(467.62 2172.95) rotate(-90) scale(1.1 1.0)" font-size="31" fill="#0d0d0d" stroke="#0d0d0d" stroke-width="0.25">GxH5</text>
<text transform="translate(494.17 2172.95) rotate(-90) scale(1.1 1.0)" font-size="31" fill="#0d0d0d" stroke="#0d0d0d" stroke-width="0.25">GxH6</text>
<text transform="translate(520.73 2172.95) rotate(-90) scale(1.1 1.0)" font-size="31" fill="#0d0d0d" stroke="#0d0d0d" stroke-width="0.25">GxH7</text>
<text transform="translate(547.28 2172.95) rotate(-90) scale(1.1 1.0)" font-size="31" fill="#0d0d0d" stroke="#0d0d0d" stroke-width="0.25">GxH8</text>
<text transform="translate(573.84 2172.95) rotate(-90) scale(1.1 1.0)" font-size="31" fill="#0d0d0d" stroke="#0d0d0d" stroke-width="0.25">GxH9</text>
<text transform="translate(600.39 2172.95) rotate(-90) scale(1.1 1.0)" font-size="31" fill="#0d0d0d" stroke="#0d0d0d" stroke-width="0.25">GxH10</text>
<text transform="translate(626.95 2172.95) rotate(-90) scale(1.1 1.0)" font-size="31" fill="#0d0d0d" stroke="#0d0d0d" stroke-width="0.25">BSxG5</text>
<text transform="translate(653.5 2172.95) rotate(-90) scale(1.1 1.0)" font-size="31" fill="#0d0d0d" stroke="#0d0d0d" stroke-width="0.25">BSxG6</text>
<text transform="translate(680.06 2172.95) rotate(-90) scale(1.1 1.0)" font-size="31" fill="#0d0d0d" stroke="#0d0d0d" stroke-width="0.25">BxH1</text>
<text transform="translate(706.61 2172.95) rotate(-90) scale(1.1 1.0)" font-size="31" fill="#0d0d0d" stroke="#0d0d0d" stroke-width="0.25">GxH11</text>
<text transform="translate(733.17 2172.95) rotate(-90) scale(1.1 1.0)" font-size="31" fill="#0d0d0d" stroke="#0d0d0d" stroke-width="0.25">GxH12</text>
<text transform="translate(759.72 2172.95) rotate(-90) scale(1.1 1.0)" font-size="31" fill="#0d0d0d" stroke="#0d0d0d" stroke-width="0.25">BxH2</text>
</g>
<g>
<rect x="926.1" y="1426.6" width="644.2" height="617" fill="#EFEFEF"/>
<path d="M926.1 1493.75H1570.3M926.1 1655.21H1570.3M926.1 1814.93H1570.3M926.1 1975H1570.3" stroke="#FFFFFF" stroke-width="2.6" fill="none"/>
<path d="M926.1 1574.65H1570.3M926.1 1735.07H1570.3M926.1 1894.79H1570.3" stroke="#FFFFFF" stroke-width="6.6" fill="none"/>
<path d="M942.5 1426.6V2043.6M969.04 1426.6V2043.6M995.58 1426.6V2043.6M1022.12 1426.6V2043.6M1048.66 1426.6V2043.6M1075.2 1426.6V2043.6M1101.74 1426.6V2043.6M1128.28 1426.6V2043.6M1154.82 1426.6V2043.6M1181.36 1426.6V2043.6M1207.9 1426.6V2043.6M1234.44 1426.6V2043.6M1260.98 1426.6V2043.6M1287.52 1426.6V2043.6M1314.06 1426.6V2043.6M1340.6 1426.6V2043.6M1367.14 1426.6V2043.6M1393.68 1426.6V2043.6M1420.22 1426.6V2043.6M1446.76 1426.6V2043.6M1473.3 1426.6V2043.6M1499.84 1426.6V2043.6M1526.38 1426.6V2043.6M1552.92 1426.6V2043.6" stroke="#FFFFFF" stroke-width="5.6" fill="none"/>
<path d="M914.6 1574.65H927.1M914.6 1735.07H927.1M914.6 1894.79H927.1" stroke="#333333" stroke-width="7.0" fill="none"/>
<path d="M942.5 2042.5V2055.2M969.04 2042.5V2055.2M995.58 2042.5V2055.2M1022.12 2042.5V2055.2M1048.66 2042.5V2055.2M1075.2 2042.5V2055.2M1101.74 2042.5V2055.2M1128.28 2042.5V2055.2M1154.82 2042.5V2055.2M1181.36 2042.5V2055.2M1207.9 2042.5V2055.2M1234.44 2042.5V2055.2M1260.98 2042.5V2055.2M1287.52 2042.5V2055.2M1314.06 2042.5V2055.2M1340.6 2042.5V2055.2M1367.14 2042.5V2055.2M1393.68 2042.5V2055.2M1420.22 2042.5V2055.2M1446.76 2042.5V2055.2M1473.3 2042.5V2055.2M1499.84 2042.5V2055.2M1526.38 2042.5V2055.2M1552.92 2042.5V2055.2" stroke="#333333" stroke-width="5.4" fill="none"/>
<text transform="translate(908.5 1586.65) scale(1 1.17)" text-anchor="end" font-size="30.2" fill="#0d0d0d" stroke="#0d0d0d" stroke-width="0.2">7.2</text>
<text transform="translate(908.5 1747.07) scale(1 1.17)" text-anchor="end" font-size="30.2" fill="#0d0d0d" stroke="#0d0d0d" stroke-width="0.2">6.8</text>
<text transform="translate(908.5 1906.79) scale(1 1.17)" text-anchor="end" font-size="30.2" fill="#0d0d0d" stroke="#0d0d0d" stroke-width="0.2">6.4</text>
<path d="M942.5 1735.07V1744.44M935.47 1735.07H949.53M942.5 1775.35V1814.93M935.47 1814.93H949.53M969.04 1454.51V1655.21M962.01 1454.51H976.07M969.04 1804.17V1973.96M962.01 1973.96H976.07M995.58 1804.17V1814.93M988.55 1814.93H1002.61M1075.2 1655.21V1664.24M1068.17 1655.21H1082.23M1075.2 1795.14V1814.93M1068.17 1814.93H1082.23M1101.74 1775.35V1855.56M1094.71 1775.35H1108.77M1101.74 1973.96V2013.89M1094.71 2013.89H1108.77M1128.28 1775.35V1784.38M1121.25 1775.35H1135.31M1154.82 1884.72V1935.76M1147.79 1935.76H1161.85M1181.36 1735.07V1764.24M1174.33 1735.07H1188.39M1181.36 1895.83V1935.76M1174.33 1935.76H1188.39M1207.9 1814.93V1824.31M1200.87 1814.93H1214.93M1234.44 1814.93V1824.31M1227.41 1814.93H1241.47M1287.52 1844.44V1855.56M1280.49 1855.56H1294.55M1314.06 1775.35V1784.38M1307.02 1775.35H1321.09M1340.6 1775.35V1795.14M1333.56 1775.35H1347.63M1367.14 1895.83V1935.76M1360.1 1895.83H1374.17M1367.14 1973.96V2013.89M1360.1 2013.89H1374.17M1393.68 1814.93V1855.56M1386.64 1814.93H1400.71M1393.68 1955.9V2013.89M1386.64 2013.89H1400.71" stroke="#000" stroke-width="1.55" fill="none"/>
<rect x="932.61" y="1744.44" width="19.77" height="30.9" fill="#FDAE61" stroke="#000" stroke-width="1.5"/>
<path d="M932.61 1773.96H952.39" stroke="#000" stroke-width="3.4" fill="none"/>
<rect x="959.15" y="1655.21" width="19.77" height="148.96" fill="#FDAE61" stroke="#000" stroke-width="1.5"/>
<path d="M959.15 1773.96H978.93" stroke="#000" stroke-width="3.4" fill="none"/>
<rect x="985.69" y="1773.96" width="19.77" height="30.21" fill="#FDAE61" stroke="#000" stroke-width="1.5"/>
<path d="M985.69 1774.65H1005.47" stroke="#000" stroke-width="3.4" fill="none"/>
<ellipse cx="995.58" cy="1695.14" rx="2.75" ry="3.3" fill="#FDAE61" stroke="#000" stroke-width="3.2"/>
<rect x="1012.23" y="1775.35" width="19.77" height="39.58" fill="#FDAE61" stroke="#000" stroke-width="1.5"/>
<path d="M1012.23 1793.75H1032.01" stroke="#000" stroke-width="3.4" fill="none"/>
<path d="M1038.02 1813.89H1059.3" stroke="#000" stroke-width="3.4" fill="none"/>
<ellipse cx="1048.66" cy="1854.86" rx="2.75" ry="3.3" fill="#FDAE61" stroke="#000" stroke-width="3.2"/>
<rect x="1065.31" y="1664.24" width="19.77" height="130.9" fill="#FDAE61" stroke="#000" stroke-width="1.5"/>
<path d="M1065.31 1713.89H1085.09" stroke="#000" stroke-width="3.4" fill="none"/>
<rect x="1091.85" y="1855.56" width="19.77" height="118.4" fill="#ABDDA4" stroke="#000" stroke-width="1.5"/>
<path d="M1091.85 1914.93H1111.63" stroke="#000" stroke-width="3.4" fill="none"/>
<rect x="1118.39" y="1784.38" width="19.77" height="111.46" fill="#ABDDA4" stroke="#000" stroke-width="1.5"/>
<path d="M1118.39 1854.86H1138.17" stroke="#000" stroke-width="3.4" fill="none"/>
<rect x="1144.93" y="1815.62" width="19.77" height="69.1" fill="#ABDDA4" stroke="#000" stroke-width="1.5"/>
<path d="M1144.93 1834.38H1164.7" stroke="#000" stroke-width="3.4" fill="none"/>
<rect x="1171.47" y="1764.24" width="19.77" height="131.6" fill="#ABDDA4" stroke="#000" stroke-width="1.5"/>
<path d="M1171.47 1874.65H1191.24" stroke="#000" stroke-width="3.4" fill="none"/>
<rect x="1198.01" y="1824.31" width="19.77" height="31.25" fill="#ABDDA4" stroke="#000" stroke-width="1.5"/>
<path d="M1198.01 1854.17H1217.78" stroke="#000" stroke-width="3.4" fill="none"/>
<rect x="1224.55" y="1824.31" width="19.77" height="31.25" fill="#ABDDA4" stroke="#000" stroke-width="1.5"/>
<path d="M1224.55 1854.17H1244.32" stroke="#000" stroke-width="3.4" fill="none"/>
<ellipse cx="1234.44" cy="1775" rx="2.75" ry="3.3" fill="#ABDDA4" stroke="#000" stroke-width="3.2"/>
<path d="M1250.34 1854.17H1271.61" stroke="#000" stroke-width="3.4" fill="none"/>
<ellipse cx="1260.98" cy="1895.49" rx="2.75" ry="3.3" fill="#2B83BA" stroke="#000" stroke-width="3.2"/>
<rect x="1277.63" y="1775.35" width="19.77" height="69.1" fill="#2B83BA" stroke="#000" stroke-width="1.5"/>
<path d="M1277.63 1793.75H1297.4" stroke="#000" stroke-width="3.4" fill="none"/>
<rect x="1304.17" y="1784.38" width="19.77" height="71.18" fill="#2B83BA" stroke="#000" stroke-width="1.5"/>
<path d="M1304.17 1834.38H1323.94" stroke="#000" stroke-width="3.4" fill="none"/>
<rect x="1330.71" y="1795.14" width="19.77" height="100.69" fill="#2B83BA" stroke="#000" stroke-width="1.5"/>
<path d="M1330.71 1874.65H1350.48" stroke="#000" stroke-width="3.4" fill="none"/>
<rect x="1357.25" y="1935.76" width="19.77" height="38.19" fill="#2B83BA" stroke="#000" stroke-width="1.5"/>
<path d="M1357.25 1954.86H1377.02" stroke="#000" stroke-width="3.4" fill="none"/>
<rect x="1383.79" y="1855.56" width="19.77" height="100.35" fill="#2B83BA" stroke="#000" stroke-width="1.5"/>
<path d="M1383.79 1874.65H1403.56" stroke="#000" stroke-width="3.4" fill="none"/>
<rect x="1410.33" y="1775.35" width="19.77" height="80.21" fill="#DB171B" stroke="#000" stroke-width="1.5"/>
<path d="M1410.33 1854.17H1430.1" stroke="#000" stroke-width="3.4" fill="none"/>
<path d="M1436.12 1773.96H1457.39" stroke="#000" stroke-width="3.4" fill="none"/>
<ellipse cx="1446.76" cy="1854.86" rx="2.75" ry="3.3" fill="#DB171B" stroke="#000" stroke-width="3.2"/>
<path d="M1462.66 1773.96H1483.93" stroke="#000" stroke-width="3.4" fill="none"/>
<ellipse cx="1473.3" cy="1854.86" rx="2.75" ry="3.3" fill="#DB171B" stroke="#000" stroke-width="3.2"/>
<rect x="1489.95" y="1775.35" width="19.77" height="40.28" fill="#DB171B" stroke="#000" stroke-width="1.5"/>
<path d="M1489.95 1813.89H1509.72" stroke="#000" stroke-width="3.4" fill="none"/>
<rect x="1516.49" y="1813.89" width="19.77" height="200" fill="#DB171B" stroke="#000" stroke-width="1.5"/>
<path d="M1516.49 1814.58H1536.26" stroke="#000" stroke-width="3.4" fill="none"/>
<rect x="1543.03" y="1775.35" width="19.77" height="238.54" fill="#DB171B" stroke="#000" stroke-width="1.5"/>
<path d="M1543.03 1813.89H1562.8" stroke="#000" stroke-width="3.4" fill="none"/>
<text transform="translate(942.5 2172.95) rotate(-90) scale(1.1 1.0)" font-size="31" fill="#0d0d0d" stroke="#0d0d0d" stroke-width="0.25">BSxH</text>
<text transform="translate(969.04 2172.95) rotate(-90) scale(1.1 1.0)" font-size="31" fill="#0d0d0d" stroke="#0d0d0d" stroke-width="0.25">BSxG1</text>
<text transform="translate(995.58 2172.95) rotate(-90) scale(1.1 1.0)" font-size="31" fill="#0d0d0d" stroke="#0d0d0d" stroke-width="0.25">BSxG2</text>
<text transform="translate(1022.12 2172.95) rotate(-90) scale(1.1 1.0)" font-size="31" fill="#0d0d0d" stroke="#0d0d0d" stroke-width="0.25">BSxG3</text>
<text transform="translate(1048.66 2172.95) rotate(-90) scale(1.1 1.0)" font-size="31" fill="#0d0d0d" stroke="#0d0d0d" stroke-width="0.25">GxH1</text>
<text transform="translate(1075.2 2172.95) rotate(-90) scale(1.1 1.0)" font-size="31" fill="#0d0d0d" stroke="#0d0d0d" stroke-width="0.25">BSxB</text>
<text transform="translate(1101.74 2172.95) rotate(-90) scale(1.1 1.0)" font-size="31" fill="#0d0d0d" stroke="#0d0d0d" stroke-width="0.25">GxH2</text>
<text transform="translate(1128.28 2172.95) rotate(-90) scale(1.1 1.0)" font-size="31" fill="#0d0d0d" stroke="#0d0d0d" stroke-width="0.25">BSxG4</text>
<text transform="translate(1154.82 2172.95) rotate(-90) scale(1.1 1.0)" font-size="31" fill="#0d0d0d" stroke="#0d0d0d" stroke-width="0.25">GxH3</text>
<text transform="translate(1181.36 2172.95) rotate(-90) scale(1.1 1.0)" font-size="31" fill="#0d0d0d" stroke="#0d0d0d" stroke-width="0.25">GxH4</text>
<text transform="translate(1207.9 2172.95) rotate(-90) scale(1.1 1.0)" font-size="31" fill="#0d0d0d" stroke="#0d0d0d" stroke-width="0.25">BSxJ1</text>
<text transform="translate(1234.44 2172.95) rotate(-90) scale(1.1 1.0)" font-size="31" fill="#0d0d0d" stroke="#0d0d0d" stroke-width="0.25">BSxJ2</text>
<text transform="translate(1260.98 2172.95) rotate(-90) scale(1.1 1.0)" font-size="31" fill="#0d0d0d" stroke="#0d0d0d" stroke-width="0.25">GxH5</text>
<text transform="translate(1287.52 2172.95) rotate(-90) scale(1.1 1.0)" font-size="31" fill="#0d0d0d" stroke="#0d0d0d" stroke-width="0.25">GxH6</text>
<text transform="translate(1314.06 2172.95) rotate(-90) scale(1.1 1.0)" font-size="31" fill="#0d0d0d" stroke="#0d0d0d" stroke-width="0.25">GxH7</text>
<text transform="translate(1340.6 2172.95) rotate(-90) scale(1.1 1.0)" font-size="31" fill="#0d0d0d" stroke="#0d0d0d" stroke-width="0.25">GxH8</text>
<text transform="translate(1367.14 2172.95) rotate(-90) scale(1.1 1.0)" font-size="31" fill="#0d0d0d" stroke="#0d0d0d" stroke-width="0.25">GxH9</text>
<text transform="translate(1393.68 2172.95) rotate(-90) scale(1.1 1.0)" font-size="31" fill="#0d0d0d" stroke="#0d0d0d" stroke-width="0.25">GxH10</text>
<text transform="translate(1420.22 2172.95) rotate(-90) scale(1.1 1.0)" font-size="31" fill="#0d0d0d" stroke="#0d0d0d" stroke-width="0.25">BSxG5</text>
<text transform="translate(1446.76 2172.95) rotate(-90) scale(1.1 1.0)" font-size="31" fill="#0d0d0d" stroke="#0d0d0d" stroke-width="0.25">BSxG6</text>
<text transform="translate(1473.3 2172.95) rotate(-90) scale(1.1 1.0)" font-size="31" fill="#0d0d0d" stroke="#0d0d0d" stroke-width="0.25">BxH1</text>
<text transform="translate(1499.84 2172.95) rotate(-90) scale(1.1 1.0)" font-size="31" fill="#0d0d0d" stroke="#0d0d0d" stroke-width="0.25">GxH11</text>
<text transform="translate(1526.38 2172.95) rotate(-90) scale(1.1 1.0)" font-size="31" fill="#0d0d0d" stroke="#0d0d0d" stroke-width="0.25">GxH12</text>
<text transform="translate(1552.92 2172.95) rotate(-90) scale(1.1 1.0)" font-size="31" fill="#0d0d0d" stroke="#0d0d0d" stroke-width="0.25">BxH2</text>
</g>
<text transform="translate(49 504.4) rotate(-90) scale(1.127 1)" font-size="42.6" fill="#0d0d0d">Fat (%)</text>
<text transform="translate(852.2 535.1) rotate(-90) scale(1.127 1)" font-size="42.6" fill="#0d0d0d">Solids (%)</text>
<text transform="translate(1636.2 589) rotate(-90) scale(1.127 1)" font-size="42.6" fill="#0d0d0d">Density (g/cm³)</text>
<text transform="translate(41.3 1161.6) rotate(-90) scale(1.127 1)" font-size="42.6" fill="#0d0d0d">FP (°C)</text>
<text transform="translate(848.4 1199.9) rotate(-90) scale(1.127 1)" font-size="42.6" fill="#0d0d0d">Protein (%)</text>
<text transform="translate(1637.8 1208.5) rotate(-90) scale(1.127 1)" font-size="42.6" fill="#0d0d0d">Lactose (%)</text>
<text transform="translate(36.3 1830.8) rotate(-90) scale(1.127 1)" font-size="42.6" fill="#0d0d0d">Salts (%)</text>
<text transform="translate(846.4 1765) rotate(-90) scale(1.127 1)" font-size="42.6" fill="#0d0d0d">pH</text>
<text x="57.9" y="154.3" font-family="'Liberation Serif', serif" font-weight="700" font-size="64.8" fill="#000">A)</text>
<text x="854.75" y="164" font-family="'Liberation Serif', serif" font-weight="700" font-size="64.8" fill="#000">B)</text>
<text x="1633.8" y="154.3" font-family="'Liberation Serif', serif" font-weight="700" font-size="64.8" fill="#000">C)</text>
<text x="57.5" y="811" font-family="'Liberation Serif', serif" font-weight="700" font-size="64.8" fill="#000">D)</text>
<text x="862.65" y="818.9" font-family="'Liberation Serif', serif" font-weight="700" font-size="64.8" fill="#000">E)</text>
<text x="1635.95" y="806" font-family="'Liberation Serif', serif" font-weight="700" font-size="64.8" fill="#000">F)</text>
<text x="62" y="1482.6" font-family="'Liberation Serif', serif" font-weight="700" font-size="64.8" fill="#000">G)</text>
<text x="850.75" y="1473.1" font-family="'Liberation Serif', serif" font-weight="700" font-size="64.8" fill="#000">H)</text>
<text transform="translate(127.8 40.2) scale(1 1.135)" font-size="41.3" fill="#000">Altitude</text>
<rect x="284.1" y="5" width="33.6" height="37.9" fill="#EFEFEF"/>
<path d="M301.4 8V38.9" stroke="#000" stroke-width="1.5" fill="none"/>
<rect x="289.0" y="14" width="24.8" height="19.5" fill="#DB171B" stroke="#000" stroke-width="1.5"/>
<path d="M287.4 23.6H315.4" stroke="#000" stroke-width="1.6" fill="none"/>
<text transform="translate(337.71 37.1) scale(1.072 1.15)" font-size="33.5" fill="#000">1110</text>
<rect x="431.1" y="5" width="34.3" height="37.9" fill="#EFEFEF"/>
<path d="M448.8 8V38.9" stroke="#000" stroke-width="1.5" fill="none"/>
<rect x="436.4" y="14" width="24.8" height="19.5" fill="#FDAE61" stroke="#000" stroke-width="1.5"/>
<path d="M434.8 23.6H462.8" stroke="#000" stroke-width="1.6" fill="none"/>
<text transform="translate(484.30 37.1) scale(0.994 1.15)" font-size="33.5" fill="#000">170</text>
<rect x="560.0" y="5" width="33.9" height="37.9" fill="#EFEFEF"/>
<path d="M577.5 8V38.9" stroke="#000" stroke-width="1.5" fill="none"/>
<rect x="565.1" y="14" width="24.8" height="19.5" fill="#ABDDA4" stroke="#000" stroke-width="1.5"/>
<path d="M563.5 23.6H591.5" stroke="#000" stroke-width="1.6" fill="none"/>
<text transform="translate(612.56 37.1) scale(1.002 1.15)" font-size="33.5" fill="#000">503</text>
<rect x="688.2" y="5" width="34.3" height="37.9" fill="#EFEFEF"/>
<path d="M705.9 8V38.9" stroke="#000" stroke-width="1.5" fill="none"/>
<rect x="693.5" y="14" width="24.8" height="19.5" fill="#2B83BA" stroke="#000" stroke-width="1.5"/>
<path d="M691.9 23.6H719.9" stroke="#000" stroke-width="1.6" fill="none"/>
<text transform="translate(740.49 37.1) scale(0.958 1.15)" font-size="33.5" fill="#000">661</text>
</g>
</svg>
</body>
</html>
